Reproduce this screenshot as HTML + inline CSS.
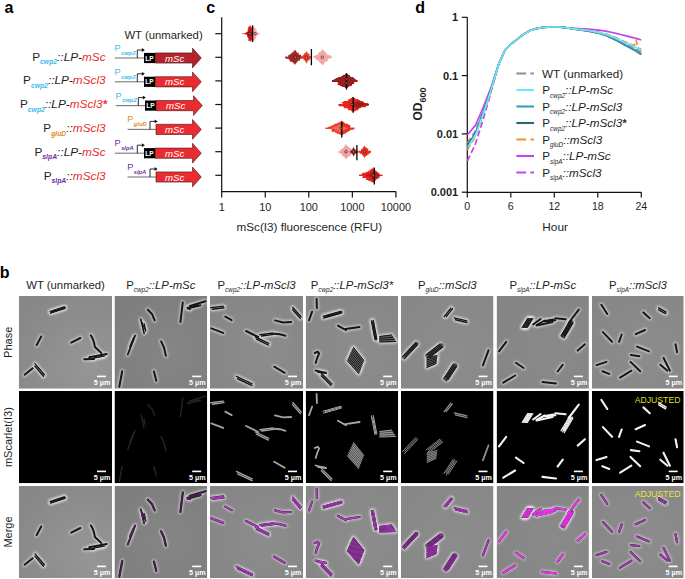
<!DOCTYPE html>
<html><head><meta charset="utf-8"><style>
html,body{margin:0;padding:0;background:#fff;width:685px;height:579px;overflow:hidden}
svg{display:block;font-family:"Liberation Sans",sans-serif}
</style></head><body>
<svg width="685" height="579" viewBox="0 0 685 579" font-family="Liberation Sans, sans-serif">
<defs><filter id="bl" filterUnits="userSpaceOnUse" x="-10" y="-10" width="115" height="115"><feGaussianBlur stdDeviation="0.9"/></filter><filter id="bl2" filterUnits="userSpaceOnUse" x="-10" y="-10" width="115" height="115"><feGaussianBlur stdDeviation="0.35"/></filter><radialGradient id="pg0" cx="0.75" cy="0.75" r="0.9"><stop offset="0" stop-color="rgb(150,150,150)"/><stop offset="1" stop-color="rgb(135,135,135)"/></radialGradient><radialGradient id="pg1" cx="0.6" cy="0.6" r="0.8"><stop offset="0" stop-color="rgb(133,133,133)"/><stop offset="1" stop-color="rgb(125,125,125)"/></radialGradient><radialGradient id="pg2" cx="0.6" cy="0.6" r="0.8"><stop offset="0" stop-color="rgb(140,140,140)"/><stop offset="1" stop-color="rgb(133,133,133)"/></radialGradient><radialGradient id="pg3" cx="0.6" cy="0.6" r="0.8"><stop offset="0" stop-color="rgb(140,140,140)"/><stop offset="1" stop-color="rgb(134,134,134)"/></radialGradient><radialGradient id="pg4" cx="0.6" cy="0.6" r="0.8"><stop offset="0" stop-color="rgb(140,140,140)"/><stop offset="1" stop-color="rgb(135,135,135)"/></radialGradient><radialGradient id="pg5" cx="0.6" cy="0.6" r="0.8"><stop offset="0" stop-color="rgb(138,138,138)"/><stop offset="1" stop-color="rgb(132,132,132)"/></radialGradient><radialGradient id="pg6" cx="0.6" cy="0.6" r="0.8"><stop offset="0" stop-color="rgb(140,140,140)"/><stop offset="1" stop-color="rgb(134,134,134)"/></radialGradient></defs>
<svg x="19" y="296" width="93" height="92.7" overflow="hidden">
<rect width="93" height="92.7" fill="url(#pg0)"/>
<path d="M30.90 15.41 L45.28 10.82" fill="none" stroke="#f0f0f0" stroke-opacity="0.6" stroke-width="4.4" stroke-linecap="round" filter="url(#bl)"/>
<path d="M32.83 15.74 L46.05 11.52" fill="none" stroke="#f0f0f0" stroke-opacity="0.6" stroke-width="4.4" stroke-linecap="round" filter="url(#bl)"/>
<path d="M31.45 17.12 L45.82 12.54" fill="none" stroke="#f0f0f0" stroke-opacity="0.6" stroke-width="4.4" stroke-linecap="round" filter="url(#bl)"/>
<path d="M17.70 49.00 L22.20 40.50" fill="none" stroke="#f0f0f0" stroke-opacity="0.6" stroke-width="4.4" stroke-linecap="round" filter="url(#bl)"/>
<path d="M52.20 46.60 L61.40 42.00" fill="none" stroke="#f0f0f0" stroke-opacity="0.6" stroke-width="4.4" stroke-linecap="round" filter="url(#bl)"/>
<path d="M71.80 39.30 L73.60 42.50 L75.00 46.50 L75.90 51.00 L79.50 54.20 L82.40 57.10" fill="none" stroke="#f0f0f0" stroke-opacity="0.6" stroke-width="4.4" stroke-linecap="round" filter="url(#bl)"/>
<path d="M65.30 63.30 L75.00 63.10" fill="none" stroke="#f0f0f0" stroke-opacity="0.6" stroke-width="4.4" stroke-linecap="round" filter="url(#bl)"/>
<path d="M70.20 61.20 L87.70 58.00" fill="none" stroke="#f0f0f0" stroke-opacity="0.6" stroke-width="4.4" stroke-linecap="round" filter="url(#bl)"/>
<path d="M73.00 62.60 L86.00 60.00" fill="none" stroke="#f0f0f0" stroke-opacity="0.6" stroke-width="4.4" stroke-linecap="round" filter="url(#bl)"/>
<path d="M75.00 61.60 L84.00 60.30" fill="none" stroke="#f0f0f0" stroke-opacity="0.6" stroke-width="4.4" stroke-linecap="round" filter="url(#bl)"/>
<path d="M5.60 78.70 L13.70 72.30" fill="none" stroke="#f0f0f0" stroke-opacity="0.6" stroke-width="4.4" stroke-linecap="round" filter="url(#bl)"/>
<path d="M16.08 67.85 L25.36 78.79" fill="none" stroke="#f0f0f0" stroke-opacity="0.6" stroke-width="4.4" stroke-linecap="round" filter="url(#bl)"/>
<path d="M15.92 70.15 L24.44 80.21" fill="none" stroke="#f0f0f0" stroke-opacity="0.6" stroke-width="4.4" stroke-linecap="round" filter="url(#bl)"/>
<path d="M32 16 L45.8 11.6" stroke="#656565" stroke-width="2.80" stroke-linecap="round" filter="url(#bl2)"/>
<path d="M30.90 15.41 L45.28 10.82" fill="none" stroke="#141414" stroke-width="1.10" stroke-linecap="round" filter="url(#bl2)"/>
<path d="M32.83 15.74 L46.05 11.52" fill="none" stroke="#141414" stroke-width="1.10" stroke-linecap="round" filter="url(#bl2)"/>
<path d="M31.45 17.12 L45.82 12.54" fill="none" stroke="#141414" stroke-width="1.10" stroke-linecap="round" filter="url(#bl2)"/>
<path d="M17.70 49.00 L22.20 40.50" fill="none" stroke="#141414" stroke-width="2.00" stroke-linecap="round" filter="url(#bl2)"/>
<path d="M52.20 46.60 L61.40 42.00" fill="none" stroke="#141414" stroke-width="2.00" stroke-linecap="round" filter="url(#bl2)"/>
<path d="M71.80 39.30 L73.60 42.50 L75.00 46.50 L75.90 51.00 L79.50 54.20 L82.40 57.10" fill="none" stroke="#141414" stroke-width="2.00" stroke-linecap="round" filter="url(#bl2)"/>
<path d="M65.30 63.30 L75.00 63.10" fill="none" stroke="#141414" stroke-width="2.00" stroke-linecap="round" filter="url(#bl2)"/>
<path d="M70.20 61.20 L87.70 58.00" fill="none" stroke="#141414" stroke-width="2.00" stroke-linecap="round" filter="url(#bl2)"/>
<path d="M73.00 62.60 L86.00 60.00" fill="none" stroke="#141414" stroke-width="1.00" stroke-linecap="round" filter="url(#bl2)"/>
<path d="M75.00 61.60 L84.00 60.30" fill="none" stroke="#141414" stroke-width="1.00" stroke-linecap="round" filter="url(#bl2)"/>
<path d="M5.60 78.70 L13.70 72.30" fill="none" stroke="#141414" stroke-width="2.00" stroke-linecap="round" filter="url(#bl2)"/>
<path d="M16.08 67.85 L25.36 78.79" fill="none" stroke="#141414" stroke-width="1.44" stroke-linecap="round" filter="url(#bl2)"/>
<path d="M15.92 70.15 L24.44 80.21" fill="none" stroke="#141414" stroke-width="1.44" stroke-linecap="round" filter="url(#bl2)"/>
<rect x="78" y="79.6" width="9" height="1.6" fill="#fff"/>
<text x="91.4" y="89.3" font-size="7.2" font-weight="bold" text-anchor="end" fill="#fff">5 µm</text>
</svg>
<svg x="19" y="391" width="93" height="92.2" overflow="hidden">
<rect width="93" height="92.2" fill="#000"/>
<rect x="78" y="79.6" width="9" height="1.6" fill="#fff"/>
<text x="91.4" y="89.3" font-size="7.2" font-weight="bold" text-anchor="end" fill="#fff">5 µm</text>
</svg>
<svg x="19" y="486" width="93" height="92" overflow="hidden">
<rect width="93" height="92" fill="url(#pg0)"/>
<path d="M30.90 15.41 L45.28 10.82" fill="none" stroke="#f0f0f0" stroke-opacity="0.6" stroke-width="4.4" stroke-linecap="round" filter="url(#bl)"/>
<path d="M32.83 15.74 L46.05 11.52" fill="none" stroke="#f0f0f0" stroke-opacity="0.6" stroke-width="4.4" stroke-linecap="round" filter="url(#bl)"/>
<path d="M31.45 17.12 L45.82 12.54" fill="none" stroke="#f0f0f0" stroke-opacity="0.6" stroke-width="4.4" stroke-linecap="round" filter="url(#bl)"/>
<path d="M17.70 49.00 L22.20 40.50" fill="none" stroke="#f0f0f0" stroke-opacity="0.6" stroke-width="4.4" stroke-linecap="round" filter="url(#bl)"/>
<path d="M52.20 46.60 L61.40 42.00" fill="none" stroke="#f0f0f0" stroke-opacity="0.6" stroke-width="4.4" stroke-linecap="round" filter="url(#bl)"/>
<path d="M71.80 39.30 L73.60 42.50 L75.00 46.50 L75.90 51.00 L79.50 54.20 L82.40 57.10" fill="none" stroke="#f0f0f0" stroke-opacity="0.6" stroke-width="4.4" stroke-linecap="round" filter="url(#bl)"/>
<path d="M65.30 63.30 L75.00 63.10" fill="none" stroke="#f0f0f0" stroke-opacity="0.6" stroke-width="4.4" stroke-linecap="round" filter="url(#bl)"/>
<path d="M70.20 61.20 L87.70 58.00" fill="none" stroke="#f0f0f0" stroke-opacity="0.6" stroke-width="4.4" stroke-linecap="round" filter="url(#bl)"/>
<path d="M73.00 62.60 L86.00 60.00" fill="none" stroke="#f0f0f0" stroke-opacity="0.6" stroke-width="4.4" stroke-linecap="round" filter="url(#bl)"/>
<path d="M75.00 61.60 L84.00 60.30" fill="none" stroke="#f0f0f0" stroke-opacity="0.6" stroke-width="4.4" stroke-linecap="round" filter="url(#bl)"/>
<path d="M5.60 78.70 L13.70 72.30" fill="none" stroke="#f0f0f0" stroke-opacity="0.6" stroke-width="4.4" stroke-linecap="round" filter="url(#bl)"/>
<path d="M16.08 67.85 L25.36 78.79" fill="none" stroke="#f0f0f0" stroke-opacity="0.6" stroke-width="4.4" stroke-linecap="round" filter="url(#bl)"/>
<path d="M15.92 70.15 L24.44 80.21" fill="none" stroke="#f0f0f0" stroke-opacity="0.6" stroke-width="4.4" stroke-linecap="round" filter="url(#bl)"/>
<path d="M32 16 L45.8 11.6" stroke="#656565" stroke-width="2.80" stroke-linecap="round" filter="url(#bl2)"/>
<path d="M30.90 15.41 L45.28 10.82" fill="none" stroke="#141414" stroke-width="1.10" stroke-linecap="round" filter="url(#bl2)"/>
<path d="M32.83 15.74 L46.05 11.52" fill="none" stroke="#141414" stroke-width="1.10" stroke-linecap="round" filter="url(#bl2)"/>
<path d="M31.45 17.12 L45.82 12.54" fill="none" stroke="#141414" stroke-width="1.10" stroke-linecap="round" filter="url(#bl2)"/>
<path d="M17.70 49.00 L22.20 40.50" fill="none" stroke="#141414" stroke-width="2.00" stroke-linecap="round" filter="url(#bl2)"/>
<path d="M52.20 46.60 L61.40 42.00" fill="none" stroke="#141414" stroke-width="2.00" stroke-linecap="round" filter="url(#bl2)"/>
<path d="M71.80 39.30 L73.60 42.50 L75.00 46.50 L75.90 51.00 L79.50 54.20 L82.40 57.10" fill="none" stroke="#141414" stroke-width="2.00" stroke-linecap="round" filter="url(#bl2)"/>
<path d="M65.30 63.30 L75.00 63.10" fill="none" stroke="#141414" stroke-width="2.00" stroke-linecap="round" filter="url(#bl2)"/>
<path d="M70.20 61.20 L87.70 58.00" fill="none" stroke="#141414" stroke-width="2.00" stroke-linecap="round" filter="url(#bl2)"/>
<path d="M73.00 62.60 L86.00 60.00" fill="none" stroke="#141414" stroke-width="1.00" stroke-linecap="round" filter="url(#bl2)"/>
<path d="M75.00 61.60 L84.00 60.30" fill="none" stroke="#141414" stroke-width="1.00" stroke-linecap="round" filter="url(#bl2)"/>
<path d="M5.60 78.70 L13.70 72.30" fill="none" stroke="#141414" stroke-width="2.00" stroke-linecap="round" filter="url(#bl2)"/>
<path d="M16.08 67.85 L25.36 78.79" fill="none" stroke="#141414" stroke-width="1.44" stroke-linecap="round" filter="url(#bl2)"/>
<path d="M15.92 70.15 L24.44 80.21" fill="none" stroke="#141414" stroke-width="1.44" stroke-linecap="round" filter="url(#bl2)"/>
<rect x="78" y="79.6" width="9" height="1.6" fill="#fff"/>
<text x="91.4" y="89.3" font-size="7.2" font-weight="bold" text-anchor="end" fill="#fff">5 µm</text>
</svg>
<svg x="114.5" y="296" width="92.7" height="92.7" overflow="hidden">
<rect width="92.7" height="92.7" fill="url(#pg1)"/>
<path d="M68.30 6.40 L65.90 26.00" fill="none" stroke="#f0f0f0" stroke-opacity="0.6" stroke-width="4.4" stroke-linecap="round" filter="url(#bl)"/>
<path d="M75.20 9.90 L91.10 5.20" fill="none" stroke="#f0f0f0" stroke-opacity="0.6" stroke-width="4.4" stroke-linecap="round" filter="url(#bl)"/>
<path d="M73.10 12.60 L86.00 9.20" fill="none" stroke="#f0f0f0" stroke-opacity="0.6" stroke-width="4.4" stroke-linecap="round" filter="url(#bl)"/>
<path d="M74.50 11.00 L84.00 8.60" fill="none" stroke="#f0f0f0" stroke-opacity="0.6" stroke-width="4.4" stroke-linecap="round" filter="url(#bl)"/>
<path d="M72.80 11.40 L75.50 13.40" fill="none" stroke="#f0f0f0" stroke-opacity="0.6" stroke-width="4.4" stroke-linecap="round" filter="url(#bl)"/>
<path d="M33.40 13.70 L37.50 18.00 L40.20 24.40" fill="none" stroke="#f0f0f0" stroke-opacity="0.6" stroke-width="4.4" stroke-linecap="round" filter="url(#bl)"/>
<path d="M26.30 23.30 L29.60 37.30" fill="none" stroke="#f0f0f0" stroke-opacity="0.6" stroke-width="4.4" stroke-linecap="round" filter="url(#bl)"/>
<path d="M29.60 27.60 L31.20 35.00" fill="none" stroke="#f0f0f0" stroke-opacity="0.6" stroke-width="4.4" stroke-linecap="round" filter="url(#bl)"/>
<path d="M27.50 26.00 L30.00 33.00" fill="none" stroke="#f0f0f0" stroke-opacity="0.6" stroke-width="4.4" stroke-linecap="round" filter="url(#bl)"/>
<path d="M20.60 39.60 L13.30 58.50" fill="none" stroke="#f0f0f0" stroke-opacity="0.6" stroke-width="4.4" stroke-linecap="round" filter="url(#bl)"/>
<path d="M19.20 41.50 L15.30 50.50" fill="none" stroke="#f0f0f0" stroke-opacity="0.6" stroke-width="4.4" stroke-linecap="round" filter="url(#bl)"/>
<path d="M46.60 45.30 L49.50 51.50 L51.40 59.70" fill="none" stroke="#f0f0f0" stroke-opacity="0.6" stroke-width="4.4" stroke-linecap="round" filter="url(#bl)"/>
<path d="M7.70 75.20 L4.80 90.70" fill="none" stroke="#f0f0f0" stroke-opacity="0.6" stroke-width="4.4" stroke-linecap="round" filter="url(#bl)"/>
<path d="M39.40 75.50 L41.80 84.80" fill="none" stroke="#f0f0f0" stroke-opacity="0.6" stroke-width="4.4" stroke-linecap="round" filter="url(#bl)"/>
<path d="M68.30 6.40 L65.90 26.00" fill="none" stroke="#141414" stroke-width="2.00" stroke-linecap="round" filter="url(#bl2)"/>
<path d="M75.20 9.90 L91.10 5.20" fill="none" stroke="#141414" stroke-width="2.00" stroke-linecap="round" filter="url(#bl2)"/>
<path d="M73.10 12.60 L86.00 9.20" fill="none" stroke="#141414" stroke-width="2.00" stroke-linecap="round" filter="url(#bl2)"/>
<path d="M74.50 11.00 L84.00 8.60" fill="none" stroke="#141414" stroke-width="1.20" stroke-linecap="round" filter="url(#bl2)"/>
<path d="M72.80 11.40 L75.50 13.40" fill="none" stroke="#141414" stroke-width="1.60" stroke-linecap="round" filter="url(#bl2)"/>
<path d="M33.40 13.70 L37.50 18.00 L40.20 24.40" fill="none" stroke="#141414" stroke-width="2.00" stroke-linecap="round" filter="url(#bl2)"/>
<path d="M26.30 23.30 L29.60 37.30" fill="none" stroke="#141414" stroke-width="1.60" stroke-linecap="round" filter="url(#bl2)"/>
<path d="M29.60 27.60 L31.20 35.00" fill="none" stroke="#141414" stroke-width="1.40" stroke-linecap="round" filter="url(#bl2)"/>
<path d="M27.50 26.00 L30.00 33.00" fill="none" stroke="#141414" stroke-width="1.00" stroke-linecap="round" filter="url(#bl2)"/>
<path d="M20.60 39.60 L13.30 58.50" fill="none" stroke="#141414" stroke-width="1.80" stroke-linecap="round" filter="url(#bl2)"/>
<path d="M19.20 41.50 L15.30 50.50" fill="none" stroke="#141414" stroke-width="1.40" stroke-linecap="round" filter="url(#bl2)"/>
<path d="M46.60 45.30 L49.50 51.50 L51.40 59.70" fill="none" stroke="#141414" stroke-width="2.00" stroke-linecap="round" filter="url(#bl2)"/>
<path d="M7.70 75.20 L4.80 90.70" fill="none" stroke="#141414" stroke-width="2.00" stroke-linecap="round" filter="url(#bl2)"/>
<path d="M39.40 75.50 L41.80 84.80" fill="none" stroke="#141414" stroke-width="2.00" stroke-linecap="round" filter="url(#bl2)"/>
<rect x="77.7" y="79.6" width="9" height="1.6" fill="#fff"/>
<text x="91.10000000000001" y="89.3" font-size="7.2" font-weight="bold" text-anchor="end" fill="#fff">5 µm</text>
</svg>
<svg x="114.5" y="391" width="92.7" height="92.2" overflow="hidden">
<rect width="92.7" height="92.2" fill="#000"/>
<path d="M68.30 6.40 L65.90 26.00" fill="none" stroke="#262626" stroke-width="1.40" stroke-linecap="round" filter="url(#bl2)"/>
<path d="M75.20 9.90 L91.10 5.20" fill="none" stroke="#262626" stroke-width="1.40" stroke-linecap="round" filter="url(#bl2)"/>
<path d="M73.10 12.60 L86.00 9.20" fill="none" stroke="#262626" stroke-width="1.40" stroke-linecap="round" filter="url(#bl2)"/>
<path d="M74.50 11.00 L84.00 8.60" fill="none" stroke="#262626" stroke-width="0.84" stroke-linecap="round" filter="url(#bl2)"/>
<path d="M72.80 11.40 L75.50 13.40" fill="none" stroke="#262626" stroke-width="1.12" stroke-linecap="round" filter="url(#bl2)"/>
<path d="M33.40 13.70 L37.50 18.00 L40.20 24.40" fill="none" stroke="#262626" stroke-width="1.40" stroke-linecap="round" filter="url(#bl2)"/>
<path d="M26.30 23.30 L29.60 37.30" fill="none" stroke="#262626" stroke-width="1.12" stroke-linecap="round" filter="url(#bl2)"/>
<path d="M29.60 27.60 L31.20 35.00" fill="none" stroke="#262626" stroke-width="0.98" stroke-linecap="round" filter="url(#bl2)"/>
<path d="M27.50 26.00 L30.00 33.00" fill="none" stroke="#262626" stroke-width="0.70" stroke-linecap="round" filter="url(#bl2)"/>
<path d="M20.60 39.60 L13.30 58.50" fill="none" stroke="#262626" stroke-width="1.26" stroke-linecap="round" filter="url(#bl2)"/>
<path d="M19.20 41.50 L15.30 50.50" fill="none" stroke="#262626" stroke-width="0.98" stroke-linecap="round" filter="url(#bl2)"/>
<path d="M46.60 45.30 L49.50 51.50 L51.40 59.70" fill="none" stroke="#262626" stroke-width="1.40" stroke-linecap="round" filter="url(#bl2)"/>
<path d="M7.70 75.20 L4.80 90.70" fill="none" stroke="#262626" stroke-width="1.40" stroke-linecap="round" filter="url(#bl2)"/>
<path d="M39.40 75.50 L41.80 84.80" fill="none" stroke="#262626" stroke-width="1.40" stroke-linecap="round" filter="url(#bl2)"/>
<rect x="77.7" y="79.6" width="9" height="1.6" fill="#fff"/>
<text x="91.10000000000001" y="89.3" font-size="7.2" font-weight="bold" text-anchor="end" fill="#fff">5 µm</text>
</svg>
<svg x="114.5" y="486" width="92.7" height="92" overflow="hidden">
<rect width="92.7" height="92" fill="url(#pg1)"/>
<path d="M68.30 6.40 L65.90 26.00" fill="none" stroke="#f0f0f0" stroke-opacity="0.6" stroke-width="4.4" stroke-linecap="round" filter="url(#bl)"/>
<path d="M75.20 9.90 L91.10 5.20" fill="none" stroke="#f0f0f0" stroke-opacity="0.6" stroke-width="4.4" stroke-linecap="round" filter="url(#bl)"/>
<path d="M73.10 12.60 L86.00 9.20" fill="none" stroke="#f0f0f0" stroke-opacity="0.6" stroke-width="4.4" stroke-linecap="round" filter="url(#bl)"/>
<path d="M74.50 11.00 L84.00 8.60" fill="none" stroke="#f0f0f0" stroke-opacity="0.6" stroke-width="4.4" stroke-linecap="round" filter="url(#bl)"/>
<path d="M72.80 11.40 L75.50 13.40" fill="none" stroke="#f0f0f0" stroke-opacity="0.6" stroke-width="4.4" stroke-linecap="round" filter="url(#bl)"/>
<path d="M33.40 13.70 L37.50 18.00 L40.20 24.40" fill="none" stroke="#f0f0f0" stroke-opacity="0.6" stroke-width="4.4" stroke-linecap="round" filter="url(#bl)"/>
<path d="M26.30 23.30 L29.60 37.30" fill="none" stroke="#f0f0f0" stroke-opacity="0.6" stroke-width="4.4" stroke-linecap="round" filter="url(#bl)"/>
<path d="M29.60 27.60 L31.20 35.00" fill="none" stroke="#f0f0f0" stroke-opacity="0.6" stroke-width="4.4" stroke-linecap="round" filter="url(#bl)"/>
<path d="M27.50 26.00 L30.00 33.00" fill="none" stroke="#f0f0f0" stroke-opacity="0.6" stroke-width="4.4" stroke-linecap="round" filter="url(#bl)"/>
<path d="M20.60 39.60 L13.30 58.50" fill="none" stroke="#f0f0f0" stroke-opacity="0.6" stroke-width="4.4" stroke-linecap="round" filter="url(#bl)"/>
<path d="M19.20 41.50 L15.30 50.50" fill="none" stroke="#f0f0f0" stroke-opacity="0.6" stroke-width="4.4" stroke-linecap="round" filter="url(#bl)"/>
<path d="M46.60 45.30 L49.50 51.50 L51.40 59.70" fill="none" stroke="#f0f0f0" stroke-opacity="0.6" stroke-width="4.4" stroke-linecap="round" filter="url(#bl)"/>
<path d="M7.70 75.20 L4.80 90.70" fill="none" stroke="#f0f0f0" stroke-opacity="0.6" stroke-width="4.4" stroke-linecap="round" filter="url(#bl)"/>
<path d="M39.40 75.50 L41.80 84.80" fill="none" stroke="#f0f0f0" stroke-opacity="0.6" stroke-width="4.4" stroke-linecap="round" filter="url(#bl)"/>
<path d="M68.30 6.40 L65.90 26.00" fill="none" stroke="#141414" stroke-width="2.20" stroke-linecap="round" filter="url(#bl2)"/>
<path d="M75.20 9.90 L91.10 5.20" fill="none" stroke="#141414" stroke-width="2.20" stroke-linecap="round" filter="url(#bl2)"/>
<path d="M73.10 12.60 L86.00 9.20" fill="none" stroke="#141414" stroke-width="2.20" stroke-linecap="round" filter="url(#bl2)"/>
<path d="M74.50 11.00 L84.00 8.60" fill="none" stroke="#141414" stroke-width="1.32" stroke-linecap="round" filter="url(#bl2)"/>
<path d="M72.80 11.40 L75.50 13.40" fill="none" stroke="#141414" stroke-width="1.76" stroke-linecap="round" filter="url(#bl2)"/>
<path d="M33.40 13.70 L37.50 18.00 L40.20 24.40" fill="none" stroke="#141414" stroke-width="2.20" stroke-linecap="round" filter="url(#bl2)"/>
<path d="M26.30 23.30 L29.60 37.30" fill="none" stroke="#141414" stroke-width="1.76" stroke-linecap="round" filter="url(#bl2)"/>
<path d="M29.60 27.60 L31.20 35.00" fill="none" stroke="#141414" stroke-width="1.54" stroke-linecap="round" filter="url(#bl2)"/>
<path d="M27.50 26.00 L30.00 33.00" fill="none" stroke="#141414" stroke-width="1.10" stroke-linecap="round" filter="url(#bl2)"/>
<path d="M20.60 39.60 L13.30 58.50" fill="none" stroke="#141414" stroke-width="1.98" stroke-linecap="round" filter="url(#bl2)"/>
<path d="M19.20 41.50 L15.30 50.50" fill="none" stroke="#141414" stroke-width="1.54" stroke-linecap="round" filter="url(#bl2)"/>
<path d="M46.60 45.30 L49.50 51.50 L51.40 59.70" fill="none" stroke="#141414" stroke-width="2.20" stroke-linecap="round" filter="url(#bl2)"/>
<path d="M7.70 75.20 L4.80 90.70" fill="none" stroke="#141414" stroke-width="2.20" stroke-linecap="round" filter="url(#bl2)"/>
<path d="M39.40 75.50 L41.80 84.80" fill="none" stroke="#141414" stroke-width="2.20" stroke-linecap="round" filter="url(#bl2)"/>
<path d="M68.30 6.40 L65.90 26.00" fill="none" stroke="#4e1e56" stroke-width="1.50" stroke-linecap="round" filter="url(#bl2)"/>
<path d="M75.20 9.90 L91.10 5.20" fill="none" stroke="#4e1e56" stroke-width="1.50" stroke-linecap="round" filter="url(#bl2)"/>
<path d="M73.10 12.60 L86.00 9.20" fill="none" stroke="#4e1e56" stroke-width="1.50" stroke-linecap="round" filter="url(#bl2)"/>
<path d="M74.50 11.00 L84.00 8.60" fill="none" stroke="#4e1e56" stroke-width="0.90" stroke-linecap="round" filter="url(#bl2)"/>
<path d="M72.80 11.40 L75.50 13.40" fill="none" stroke="#4e1e56" stroke-width="1.20" stroke-linecap="round" filter="url(#bl2)"/>
<path d="M33.40 13.70 L37.50 18.00 L40.20 24.40" fill="none" stroke="#4e1e56" stroke-width="1.50" stroke-linecap="round" filter="url(#bl2)"/>
<path d="M26.30 23.30 L29.60 37.30" fill="none" stroke="#4e1e56" stroke-width="1.20" stroke-linecap="round" filter="url(#bl2)"/>
<path d="M29.60 27.60 L31.20 35.00" fill="none" stroke="#4e1e56" stroke-width="1.05" stroke-linecap="round" filter="url(#bl2)"/>
<path d="M27.50 26.00 L30.00 33.00" fill="none" stroke="#4e1e56" stroke-width="0.75" stroke-linecap="round" filter="url(#bl2)"/>
<path d="M20.60 39.60 L13.30 58.50" fill="none" stroke="#4e1e56" stroke-width="1.35" stroke-linecap="round" filter="url(#bl2)"/>
<path d="M19.20 41.50 L15.30 50.50" fill="none" stroke="#4e1e56" stroke-width="1.05" stroke-linecap="round" filter="url(#bl2)"/>
<path d="M46.60 45.30 L49.50 51.50 L51.40 59.70" fill="none" stroke="#4e1e56" stroke-width="1.50" stroke-linecap="round" filter="url(#bl2)"/>
<path d="M7.70 75.20 L4.80 90.70" fill="none" stroke="#4e1e56" stroke-width="1.50" stroke-linecap="round" filter="url(#bl2)"/>
<path d="M39.40 75.50 L41.80 84.80" fill="none" stroke="#4e1e56" stroke-width="1.50" stroke-linecap="round" filter="url(#bl2)"/>
<rect x="77.7" y="79.6" width="9" height="1.6" fill="#fff"/>
<text x="91.10000000000001" y="89.3" font-size="7.2" font-weight="bold" text-anchor="end" fill="#fff">5 µm</text>
</svg>
<svg x="210" y="296" width="93" height="92.7" overflow="hidden">
<rect width="93" height="92.7" fill="url(#pg2)"/>
<path d="M0.77 11.79 L13.38 10.13" fill="none" stroke="#f0f0f0" stroke-opacity="0.6" stroke-width="4.4" stroke-linecap="round" filter="url(#bl)"/>
<path d="M2.43 13.21 L14.02 11.67" fill="none" stroke="#f0f0f0" stroke-opacity="0.6" stroke-width="4.4" stroke-linecap="round" filter="url(#bl)"/>
<path d="M15.30 20.60 L21.70 24.10" fill="none" stroke="#f0f0f0" stroke-opacity="0.6" stroke-width="4.4" stroke-linecap="round" filter="url(#bl)"/>
<path d="M82.83 11.42 L91.17 21.00" fill="none" stroke="#f0f0f0" stroke-opacity="0.6" stroke-width="4.4" stroke-linecap="round" filter="url(#bl)"/>
<path d="M82.57 13.58 L90.23 22.40" fill="none" stroke="#f0f0f0" stroke-opacity="0.6" stroke-width="4.4" stroke-linecap="round" filter="url(#bl)"/>
<path d="M65.00 24.40 L73.00 26.40 L81.10 26.00" fill="none" stroke="#f0f0f0" stroke-opacity="0.6" stroke-width="4.4" stroke-linecap="round" filter="url(#bl)"/>
<path d="M1.30 32.40 L13.20 36.90" fill="none" stroke="#f0f0f0" stroke-opacity="0.6" stroke-width="4.4" stroke-linecap="round" filter="url(#bl)"/>
<path d="M36.10 35.00 L48.20 41.00" fill="none" stroke="#f0f0f0" stroke-opacity="0.6" stroke-width="4.4" stroke-linecap="round" filter="url(#bl)"/>
<path d="M45.38 41.00 L58.72 47.36" fill="none" stroke="#f0f0f0" stroke-opacity="0.6" stroke-width="4.4" stroke-linecap="round" filter="url(#bl)"/>
<path d="M46.22 43.20 L58.48 49.04" fill="none" stroke="#f0f0f0" stroke-opacity="0.6" stroke-width="4.4" stroke-linecap="round" filter="url(#bl)"/>
<path d="M49.73 38.77 L63.07 36.99" fill="none" stroke="#f0f0f0" stroke-opacity="0.6" stroke-width="4.4" stroke-linecap="round" filter="url(#bl)"/>
<path d="M51.47 40.03 L63.73 38.41" fill="none" stroke="#f0f0f0" stroke-opacity="0.6" stroke-width="4.4" stroke-linecap="round" filter="url(#bl)"/>
<path d="M64.20 37.70 L70.00 38.20 L75.50 39.80" fill="none" stroke="#f0f0f0" stroke-opacity="0.6" stroke-width="4.4" stroke-linecap="round" filter="url(#bl)"/>
<path d="M64.20 70.70 L74.70 76.80" fill="none" stroke="#f0f0f0" stroke-opacity="0.6" stroke-width="4.4" stroke-linecap="round" filter="url(#bl)"/>
<path d="M26.44 80.44 L42.17 87.84" fill="none" stroke="#f0f0f0" stroke-opacity="0.6" stroke-width="4.4" stroke-linecap="round" filter="url(#bl)"/>
<path d="M27.56 82.76 L42.03 89.56" fill="none" stroke="#f0f0f0" stroke-opacity="0.6" stroke-width="4.4" stroke-linecap="round" filter="url(#bl)"/>
<path d="M0.77 11.79 L13.38 10.13" fill="none" stroke="#141414" stroke-width="1.44" stroke-linecap="round" filter="url(#bl2)"/>
<path d="M2.43 13.21 L14.02 11.67" fill="none" stroke="#141414" stroke-width="1.44" stroke-linecap="round" filter="url(#bl2)"/>
<path d="M15.30 20.60 L21.70 24.10" fill="none" stroke="#141414" stroke-width="2.00" stroke-linecap="round" filter="url(#bl2)"/>
<path d="M82.83 11.42 L91.17 21.00" fill="none" stroke="#141414" stroke-width="1.44" stroke-linecap="round" filter="url(#bl2)"/>
<path d="M82.57 13.58 L90.23 22.40" fill="none" stroke="#141414" stroke-width="1.44" stroke-linecap="round" filter="url(#bl2)"/>
<path d="M65.00 24.40 L73.00 26.40 L81.10 26.00" fill="none" stroke="#141414" stroke-width="2.00" stroke-linecap="round" filter="url(#bl2)"/>
<path d="M1.30 32.40 L13.20 36.90" fill="none" stroke="#141414" stroke-width="2.00" stroke-linecap="round" filter="url(#bl2)"/>
<path d="M36.10 35.00 L48.20 41.00" fill="none" stroke="#141414" stroke-width="2.00" stroke-linecap="round" filter="url(#bl2)"/>
<path d="M45.38 41.00 L58.72 47.36" fill="none" stroke="#141414" stroke-width="1.44" stroke-linecap="round" filter="url(#bl2)"/>
<path d="M46.22 43.20 L58.48 49.04" fill="none" stroke="#141414" stroke-width="1.44" stroke-linecap="round" filter="url(#bl2)"/>
<path d="M49.73 38.77 L63.07 36.99" fill="none" stroke="#141414" stroke-width="1.44" stroke-linecap="round" filter="url(#bl2)"/>
<path d="M51.47 40.03 L63.73 38.41" fill="none" stroke="#141414" stroke-width="1.44" stroke-linecap="round" filter="url(#bl2)"/>
<path d="M64.20 37.70 L70.00 38.20 L75.50 39.80" fill="none" stroke="#141414" stroke-width="2.00" stroke-linecap="round" filter="url(#bl2)"/>
<path d="M64.20 70.70 L74.70 76.80" fill="none" stroke="#141414" stroke-width="2.00" stroke-linecap="round" filter="url(#bl2)"/>
<path d="M26.44 80.44 L42.17 87.84" fill="none" stroke="#141414" stroke-width="1.44" stroke-linecap="round" filter="url(#bl2)"/>
<path d="M27.56 82.76 L42.03 89.56" fill="none" stroke="#141414" stroke-width="1.44" stroke-linecap="round" filter="url(#bl2)"/>
<rect x="78" y="79.6" width="9" height="1.6" fill="#fff"/>
<text x="91.4" y="89.3" font-size="7.2" font-weight="bold" text-anchor="end" fill="#fff">5 µm</text>
</svg>
<svg x="210" y="391" width="93" height="92.2" overflow="hidden">
<rect width="93" height="92.2" fill="#000"/>
<path d="M0.77 11.79 L13.38 10.13" fill="none" stroke="#a2a2a2" stroke-width="1.37" stroke-linecap="round" filter="url(#bl2)"/>
<path d="M2.43 13.21 L14.02 11.67" fill="none" stroke="#a2a2a2" stroke-width="1.37" stroke-linecap="round" filter="url(#bl2)"/>
<path d="M15.30 20.60 L21.70 24.10" fill="none" stroke="#a2a2a2" stroke-width="1.90" stroke-linecap="round" filter="url(#bl2)"/>
<path d="M82.83 11.42 L91.17 21.00" fill="none" stroke="#a2a2a2" stroke-width="1.37" stroke-linecap="round" filter="url(#bl2)"/>
<path d="M82.57 13.58 L90.23 22.40" fill="none" stroke="#a2a2a2" stroke-width="1.37" stroke-linecap="round" filter="url(#bl2)"/>
<path d="M65.00 24.40 L73.00 26.40 L81.10 26.00" fill="none" stroke="#a2a2a2" stroke-width="1.90" stroke-linecap="round" filter="url(#bl2)"/>
<path d="M1.30 32.40 L13.20 36.90" fill="none" stroke="#a2a2a2" stroke-width="1.90" stroke-linecap="round" filter="url(#bl2)"/>
<path d="M36.10 35.00 L48.20 41.00" fill="none" stroke="#a2a2a2" stroke-width="1.90" stroke-linecap="round" filter="url(#bl2)"/>
<path d="M45.38 41.00 L58.72 47.36" fill="none" stroke="#a2a2a2" stroke-width="1.37" stroke-linecap="round" filter="url(#bl2)"/>
<path d="M46.22 43.20 L58.48 49.04" fill="none" stroke="#a2a2a2" stroke-width="1.37" stroke-linecap="round" filter="url(#bl2)"/>
<path d="M49.73 38.77 L63.07 36.99" fill="none" stroke="#a2a2a2" stroke-width="1.37" stroke-linecap="round" filter="url(#bl2)"/>
<path d="M51.47 40.03 L63.73 38.41" fill="none" stroke="#a2a2a2" stroke-width="1.37" stroke-linecap="round" filter="url(#bl2)"/>
<path d="M64.20 37.70 L70.00 38.20 L75.50 39.80" fill="none" stroke="#a2a2a2" stroke-width="1.90" stroke-linecap="round" filter="url(#bl2)"/>
<path d="M64.20 70.70 L74.70 76.80" fill="none" stroke="#a2a2a2" stroke-width="1.90" stroke-linecap="round" filter="url(#bl2)"/>
<path d="M26.44 80.44 L42.17 87.84" fill="none" stroke="#a2a2a2" stroke-width="1.37" stroke-linecap="round" filter="url(#bl2)"/>
<path d="M27.56 82.76 L42.03 89.56" fill="none" stroke="#a2a2a2" stroke-width="1.37" stroke-linecap="round" filter="url(#bl2)"/>
<rect x="78" y="79.6" width="9" height="1.6" fill="#fff"/>
<text x="91.4" y="89.3" font-size="7.2" font-weight="bold" text-anchor="end" fill="#fff">5 µm</text>
</svg>
<svg x="210" y="486" width="93" height="92" overflow="hidden">
<rect width="93" height="92" fill="url(#pg2)"/>
<path d="M0.77 11.79 L13.38 10.13" fill="none" stroke="#f0f0f0" stroke-opacity="0.6" stroke-width="4.4" stroke-linecap="round" filter="url(#bl)"/>
<path d="M2.43 13.21 L14.02 11.67" fill="none" stroke="#f0f0f0" stroke-opacity="0.6" stroke-width="4.4" stroke-linecap="round" filter="url(#bl)"/>
<path d="M15.30 20.60 L21.70 24.10" fill="none" stroke="#f0f0f0" stroke-opacity="0.6" stroke-width="4.4" stroke-linecap="round" filter="url(#bl)"/>
<path d="M82.83 11.42 L91.17 21.00" fill="none" stroke="#f0f0f0" stroke-opacity="0.6" stroke-width="4.4" stroke-linecap="round" filter="url(#bl)"/>
<path d="M82.57 13.58 L90.23 22.40" fill="none" stroke="#f0f0f0" stroke-opacity="0.6" stroke-width="4.4" stroke-linecap="round" filter="url(#bl)"/>
<path d="M65.00 24.40 L73.00 26.40 L81.10 26.00" fill="none" stroke="#f0f0f0" stroke-opacity="0.6" stroke-width="4.4" stroke-linecap="round" filter="url(#bl)"/>
<path d="M1.30 32.40 L13.20 36.90" fill="none" stroke="#f0f0f0" stroke-opacity="0.6" stroke-width="4.4" stroke-linecap="round" filter="url(#bl)"/>
<path d="M36.10 35.00 L48.20 41.00" fill="none" stroke="#f0f0f0" stroke-opacity="0.6" stroke-width="4.4" stroke-linecap="round" filter="url(#bl)"/>
<path d="M45.38 41.00 L58.72 47.36" fill="none" stroke="#f0f0f0" stroke-opacity="0.6" stroke-width="4.4" stroke-linecap="round" filter="url(#bl)"/>
<path d="M46.22 43.20 L58.48 49.04" fill="none" stroke="#f0f0f0" stroke-opacity="0.6" stroke-width="4.4" stroke-linecap="round" filter="url(#bl)"/>
<path d="M49.73 38.77 L63.07 36.99" fill="none" stroke="#f0f0f0" stroke-opacity="0.6" stroke-width="4.4" stroke-linecap="round" filter="url(#bl)"/>
<path d="M51.47 40.03 L63.73 38.41" fill="none" stroke="#f0f0f0" stroke-opacity="0.6" stroke-width="4.4" stroke-linecap="round" filter="url(#bl)"/>
<path d="M64.20 37.70 L70.00 38.20 L75.50 39.80" fill="none" stroke="#f0f0f0" stroke-opacity="0.6" stroke-width="4.4" stroke-linecap="round" filter="url(#bl)"/>
<path d="M64.20 70.70 L74.70 76.80" fill="none" stroke="#f0f0f0" stroke-opacity="0.6" stroke-width="4.4" stroke-linecap="round" filter="url(#bl)"/>
<path d="M26.44 80.44 L42.17 87.84" fill="none" stroke="#f0f0f0" stroke-opacity="0.6" stroke-width="4.4" stroke-linecap="round" filter="url(#bl)"/>
<path d="M27.56 82.76 L42.03 89.56" fill="none" stroke="#f0f0f0" stroke-opacity="0.6" stroke-width="4.4" stroke-linecap="round" filter="url(#bl)"/>
<path d="M0.77 11.79 L13.38 10.13" fill="none" stroke="#141414" stroke-width="1.58" stroke-linecap="round" filter="url(#bl2)"/>
<path d="M2.43 13.21 L14.02 11.67" fill="none" stroke="#141414" stroke-width="1.58" stroke-linecap="round" filter="url(#bl2)"/>
<path d="M15.30 20.60 L21.70 24.10" fill="none" stroke="#141414" stroke-width="2.20" stroke-linecap="round" filter="url(#bl2)"/>
<path d="M82.83 11.42 L91.17 21.00" fill="none" stroke="#141414" stroke-width="1.58" stroke-linecap="round" filter="url(#bl2)"/>
<path d="M82.57 13.58 L90.23 22.40" fill="none" stroke="#141414" stroke-width="1.58" stroke-linecap="round" filter="url(#bl2)"/>
<path d="M65.00 24.40 L73.00 26.40 L81.10 26.00" fill="none" stroke="#141414" stroke-width="2.20" stroke-linecap="round" filter="url(#bl2)"/>
<path d="M1.30 32.40 L13.20 36.90" fill="none" stroke="#141414" stroke-width="2.20" stroke-linecap="round" filter="url(#bl2)"/>
<path d="M36.10 35.00 L48.20 41.00" fill="none" stroke="#141414" stroke-width="2.20" stroke-linecap="round" filter="url(#bl2)"/>
<path d="M45.38 41.00 L58.72 47.36" fill="none" stroke="#141414" stroke-width="1.58" stroke-linecap="round" filter="url(#bl2)"/>
<path d="M46.22 43.20 L58.48 49.04" fill="none" stroke="#141414" stroke-width="1.58" stroke-linecap="round" filter="url(#bl2)"/>
<path d="M49.73 38.77 L63.07 36.99" fill="none" stroke="#141414" stroke-width="1.58" stroke-linecap="round" filter="url(#bl2)"/>
<path d="M51.47 40.03 L63.73 38.41" fill="none" stroke="#141414" stroke-width="1.58" stroke-linecap="round" filter="url(#bl2)"/>
<path d="M64.20 37.70 L70.00 38.20 L75.50 39.80" fill="none" stroke="#141414" stroke-width="2.20" stroke-linecap="round" filter="url(#bl2)"/>
<path d="M64.20 70.70 L74.70 76.80" fill="none" stroke="#141414" stroke-width="2.20" stroke-linecap="round" filter="url(#bl2)"/>
<path d="M26.44 80.44 L42.17 87.84" fill="none" stroke="#141414" stroke-width="1.58" stroke-linecap="round" filter="url(#bl2)"/>
<path d="M27.56 82.76 L42.03 89.56" fill="none" stroke="#141414" stroke-width="1.58" stroke-linecap="round" filter="url(#bl2)"/>
<path d="M0.77 11.79 L13.38 10.13" fill="none" stroke="#b034c8" stroke-width="1.22" stroke-linecap="round" filter="url(#bl2)"/>
<path d="M2.43 13.21 L14.02 11.67" fill="none" stroke="#b034c8" stroke-width="1.22" stroke-linecap="round" filter="url(#bl2)"/>
<path d="M15.30 20.60 L21.70 24.10" fill="none" stroke="#b034c8" stroke-width="1.70" stroke-linecap="round" filter="url(#bl2)"/>
<path d="M82.83 11.42 L91.17 21.00" fill="none" stroke="#b034c8" stroke-width="1.22" stroke-linecap="round" filter="url(#bl2)"/>
<path d="M82.57 13.58 L90.23 22.40" fill="none" stroke="#b034c8" stroke-width="1.22" stroke-linecap="round" filter="url(#bl2)"/>
<path d="M65.00 24.40 L73.00 26.40 L81.10 26.00" fill="none" stroke="#b034c8" stroke-width="1.70" stroke-linecap="round" filter="url(#bl2)"/>
<path d="M1.30 32.40 L13.20 36.90" fill="none" stroke="#b034c8" stroke-width="1.70" stroke-linecap="round" filter="url(#bl2)"/>
<path d="M36.10 35.00 L48.20 41.00" fill="none" stroke="#b034c8" stroke-width="1.70" stroke-linecap="round" filter="url(#bl2)"/>
<path d="M45.38 41.00 L58.72 47.36" fill="none" stroke="#b034c8" stroke-width="1.22" stroke-linecap="round" filter="url(#bl2)"/>
<path d="M46.22 43.20 L58.48 49.04" fill="none" stroke="#b034c8" stroke-width="1.22" stroke-linecap="round" filter="url(#bl2)"/>
<path d="M49.73 38.77 L63.07 36.99" fill="none" stroke="#b034c8" stroke-width="1.22" stroke-linecap="round" filter="url(#bl2)"/>
<path d="M51.47 40.03 L63.73 38.41" fill="none" stroke="#b034c8" stroke-width="1.22" stroke-linecap="round" filter="url(#bl2)"/>
<path d="M64.20 37.70 L70.00 38.20 L75.50 39.80" fill="none" stroke="#b034c8" stroke-width="1.70" stroke-linecap="round" filter="url(#bl2)"/>
<path d="M64.20 70.70 L74.70 76.80" fill="none" stroke="#b034c8" stroke-width="1.70" stroke-linecap="round" filter="url(#bl2)"/>
<path d="M26.44 80.44 L42.17 87.84" fill="none" stroke="#b034c8" stroke-width="1.22" stroke-linecap="round" filter="url(#bl2)"/>
<path d="M27.56 82.76 L42.03 89.56" fill="none" stroke="#b034c8" stroke-width="1.22" stroke-linecap="round" filter="url(#bl2)"/>
<rect x="78" y="79.6" width="9" height="1.6" fill="#fff"/>
<text x="91.4" y="89.3" font-size="7.2" font-weight="bold" text-anchor="end" fill="#fff">5 µm</text>
</svg>
<svg x="305.7" y="296" width="92.5" height="92.7" overflow="hidden">
<rect width="92.5" height="92.7" fill="url(#pg3)"/>
<path d="M10.90 2.90 L11.20 12.00" fill="none" stroke="#f0f0f0" stroke-opacity="0.6" stroke-width="4.4" stroke-linecap="round" filter="url(#bl)"/>
<path d="M6.40 15.70 L3.30 24.30" fill="none" stroke="#f0f0f0" stroke-opacity="0.6" stroke-width="4.4" stroke-linecap="round" filter="url(#bl)"/>
<path d="M17.31 20.23 L35.02 15.22" fill="none" stroke="#f0f0f0" stroke-opacity="0.6" stroke-width="4.4" stroke-linecap="round" filter="url(#bl)"/>
<path d="M19.62 20.61 L35.91 16.01" fill="none" stroke="#f0f0f0" stroke-opacity="0.6" stroke-width="4.4" stroke-linecap="round" filter="url(#bl)"/>
<path d="M17.85 22.15 L35.57 17.15" fill="none" stroke="#f0f0f0" stroke-opacity="0.6" stroke-width="4.4" stroke-linecap="round" filter="url(#bl)"/>
<path d="M32.20 29.70 L40.30 34.20" fill="none" stroke="#f0f0f0" stroke-opacity="0.6" stroke-width="4.4" stroke-linecap="round" filter="url(#bl)"/>
<path d="M39.70 33.10 L53.90 31.00" fill="none" stroke="#f0f0f0" stroke-opacity="0.6" stroke-width="4.4" stroke-linecap="round" filter="url(#bl)"/>
<path d="M67.58 24.35 L71.12 42.79" fill="none" stroke="#f0f0f0" stroke-opacity="0.6" stroke-width="4.4" stroke-linecap="round" filter="url(#bl)"/>
<path d="M67.00 26.66 L70.26 43.62" fill="none" stroke="#f0f0f0" stroke-opacity="0.6" stroke-width="4.4" stroke-linecap="round" filter="url(#bl)"/>
<path d="M65.61 24.73 L69.16 43.17" fill="none" stroke="#f0f0f0" stroke-opacity="0.6" stroke-width="4.4" stroke-linecap="round" filter="url(#bl)"/>
<path d="M74.00 40.50 L86.00 39.00" fill="none" stroke="#f0f0f0" stroke-opacity="0.6" stroke-width="4.4" stroke-linecap="round" filter="url(#bl)"/>
<path d="M74.00 42.33 L87.33 41.17" fill="none" stroke="#f0f0f0" stroke-opacity="0.6" stroke-width="4.4" stroke-linecap="round" filter="url(#bl)"/>
<path d="M74.00 44.17 L88.67 43.33" fill="none" stroke="#f0f0f0" stroke-opacity="0.6" stroke-width="4.4" stroke-linecap="round" filter="url(#bl)"/>
<path d="M74.00 46.00 L90.00 45.50" fill="none" stroke="#f0f0f0" stroke-opacity="0.6" stroke-width="4.4" stroke-linecap="round" filter="url(#bl)"/>
<path d="M47.80 51.50 L58.00 64.30" fill="none" stroke="#f0f0f0" stroke-opacity="0.6" stroke-width="4.4" stroke-linecap="round" filter="url(#bl)"/>
<path d="M47.04 53.16 L57.38 65.96" fill="none" stroke="#f0f0f0" stroke-opacity="0.6" stroke-width="4.4" stroke-linecap="round" filter="url(#bl)"/>
<path d="M46.27 54.83 L56.75 67.62" fill="none" stroke="#f0f0f0" stroke-opacity="0.6" stroke-width="4.4" stroke-linecap="round" filter="url(#bl)"/>
<path d="M45.51 56.49 L56.12 69.29" fill="none" stroke="#f0f0f0" stroke-opacity="0.6" stroke-width="4.4" stroke-linecap="round" filter="url(#bl)"/>
<path d="M44.75 58.15 L55.50 70.95" fill="none" stroke="#f0f0f0" stroke-opacity="0.6" stroke-width="4.4" stroke-linecap="round" filter="url(#bl)"/>
<path d="M43.99 59.81 L54.88 72.61" fill="none" stroke="#f0f0f0" stroke-opacity="0.6" stroke-width="4.4" stroke-linecap="round" filter="url(#bl)"/>
<path d="M43.23 61.47 L54.25 74.27" fill="none" stroke="#f0f0f0" stroke-opacity="0.6" stroke-width="4.4" stroke-linecap="round" filter="url(#bl)"/>
<path d="M42.46 63.14 L53.62 75.94" fill="none" stroke="#f0f0f0" stroke-opacity="0.6" stroke-width="4.4" stroke-linecap="round" filter="url(#bl)"/>
<path d="M41.70 64.80 L53.00 77.60" fill="none" stroke="#f0f0f0" stroke-opacity="0.6" stroke-width="4.4" stroke-linecap="round" filter="url(#bl)"/>
<path d="M9.00 57.00 L12.00 55.80 L13.40 57.50 L11.50 62.00 L10.00 66.90" fill="none" stroke="#f0f0f0" stroke-opacity="0.6" stroke-width="4.4" stroke-linecap="round" filter="url(#bl)"/>
<path d="M10.00 74.50 L20.20 77.10" fill="none" stroke="#f0f0f0" stroke-opacity="0.6" stroke-width="4.4" stroke-linecap="round" filter="url(#bl)"/>
<path d="M12.50 76.00 L20.00 76.80" fill="none" stroke="#f0f0f0" stroke-opacity="0.6" stroke-width="4.4" stroke-linecap="round" filter="url(#bl)"/>
<path d="M15.61 77.37 L26.24 88.00" fill="none" stroke="#f0f0f0" stroke-opacity="0.6" stroke-width="4.4" stroke-linecap="round" filter="url(#bl)"/>
<path d="M15.59 79.83 L25.36 89.60" fill="none" stroke="#f0f0f0" stroke-opacity="0.6" stroke-width="4.4" stroke-linecap="round" filter="url(#bl)"/>
<path d="M18.6 20.9 L35.6 16.1" stroke="#656565" stroke-width="3.00" stroke-linecap="round" filter="url(#bl2)"/>
<path d="M66.8 25.6 L70.2 43.3" stroke="#656565" stroke-width="3.00" stroke-linecap="round" filter="url(#bl2)"/>
<polygon points="74.0,40.5 86.0,39.0 90.0,45.5 74.0,46.0" fill="#656565" stroke="#656565" stroke-width="1" filter="url(#bl2)"/>
<polygon points="47.8,51.5 58.0,64.3 53.0,77.6 41.7,64.8" fill="#656565" stroke="#656565" stroke-width="1" filter="url(#bl2)"/>
<path d="M10.90 2.90 L11.20 12.00" fill="none" stroke="#141414" stroke-width="2.00" stroke-linecap="round" filter="url(#bl2)"/>
<path d="M6.40 15.70 L3.30 24.30" fill="none" stroke="#141414" stroke-width="2.00" stroke-linecap="round" filter="url(#bl2)"/>
<path d="M17.31 20.23 L35.02 15.22" fill="none" stroke="#141414" stroke-width="1.10" stroke-linecap="round" filter="url(#bl2)"/>
<path d="M19.62 20.61 L35.91 16.01" fill="none" stroke="#141414" stroke-width="1.10" stroke-linecap="round" filter="url(#bl2)"/>
<path d="M17.85 22.15 L35.57 17.15" fill="none" stroke="#141414" stroke-width="1.10" stroke-linecap="round" filter="url(#bl2)"/>
<path d="M32.20 29.70 L40.30 34.20" fill="none" stroke="#141414" stroke-width="2.00" stroke-linecap="round" filter="url(#bl2)"/>
<path d="M39.70 33.10 L53.90 31.00" fill="none" stroke="#141414" stroke-width="2.00" stroke-linecap="round" filter="url(#bl2)"/>
<path d="M67.58 24.35 L71.12 42.79" fill="none" stroke="#141414" stroke-width="1.10" stroke-linecap="round" filter="url(#bl2)"/>
<path d="M67.00 26.66 L70.26 43.62" fill="none" stroke="#141414" stroke-width="1.10" stroke-linecap="round" filter="url(#bl2)"/>
<path d="M65.61 24.73 L69.16 43.17" fill="none" stroke="#141414" stroke-width="1.10" stroke-linecap="round" filter="url(#bl2)"/>
<path d="M74.00 40.50 L86.00 39.00" fill="none" stroke="#141414" stroke-width="1.00" stroke-linecap="round" filter="url(#bl2)"/>
<path d="M74.00 42.33 L87.33 41.17" fill="none" stroke="#141414" stroke-width="1.00" stroke-linecap="round" filter="url(#bl2)"/>
<path d="M74.00 44.17 L88.67 43.33" fill="none" stroke="#141414" stroke-width="1.00" stroke-linecap="round" filter="url(#bl2)"/>
<path d="M74.00 46.00 L90.00 45.50" fill="none" stroke="#141414" stroke-width="1.00" stroke-linecap="round" filter="url(#bl2)"/>
<path d="M47.80 51.50 L58.00 64.30" fill="none" stroke="#141414" stroke-width="1.00" stroke-linecap="round" filter="url(#bl2)"/>
<path d="M47.04 53.16 L57.38 65.96" fill="none" stroke="#141414" stroke-width="1.00" stroke-linecap="round" filter="url(#bl2)"/>
<path d="M46.27 54.83 L56.75 67.62" fill="none" stroke="#141414" stroke-width="1.00" stroke-linecap="round" filter="url(#bl2)"/>
<path d="M45.51 56.49 L56.12 69.29" fill="none" stroke="#141414" stroke-width="1.00" stroke-linecap="round" filter="url(#bl2)"/>
<path d="M44.75 58.15 L55.50 70.95" fill="none" stroke="#141414" stroke-width="1.00" stroke-linecap="round" filter="url(#bl2)"/>
<path d="M43.99 59.81 L54.88 72.61" fill="none" stroke="#141414" stroke-width="1.00" stroke-linecap="round" filter="url(#bl2)"/>
<path d="M43.23 61.47 L54.25 74.27" fill="none" stroke="#141414" stroke-width="1.00" stroke-linecap="round" filter="url(#bl2)"/>
<path d="M42.46 63.14 L53.62 75.94" fill="none" stroke="#141414" stroke-width="1.00" stroke-linecap="round" filter="url(#bl2)"/>
<path d="M41.70 64.80 L53.00 77.60" fill="none" stroke="#141414" stroke-width="1.00" stroke-linecap="round" filter="url(#bl2)"/>
<path d="M9.00 57.00 L12.00 55.80 L13.40 57.50 L11.50 62.00 L10.00 66.90" fill="none" stroke="#141414" stroke-width="2.00" stroke-linecap="round" filter="url(#bl2)"/>
<path d="M10.00 74.50 L20.20 77.10" fill="none" stroke="#141414" stroke-width="2.00" stroke-linecap="round" filter="url(#bl2)"/>
<path d="M12.50 76.00 L20.00 76.80" fill="none" stroke="#141414" stroke-width="2.00" stroke-linecap="round" filter="url(#bl2)"/>
<path d="M15.61 77.37 L26.24 88.00" fill="none" stroke="#141414" stroke-width="1.44" stroke-linecap="round" filter="url(#bl2)"/>
<path d="M15.59 79.83 L25.36 89.60" fill="none" stroke="#141414" stroke-width="1.44" stroke-linecap="round" filter="url(#bl2)"/>
<rect x="77.5" y="79.6" width="9" height="1.6" fill="#fff"/>
<text x="90.9" y="89.3" font-size="7.2" font-weight="bold" text-anchor="end" fill="#fff">5 µm</text>
</svg>
<svg x="305.7" y="391" width="92.5" height="92.2" overflow="hidden">
<rect width="92.5" height="92.2" fill="#000"/>
<polygon points="74.0,40.5 86.0,39.0 90.0,45.5 74.0,46.0" fill="#a8a8a8" fill-opacity="0.45" filter="url(#bl2)"/>
<polygon points="47.8,51.5 58.0,64.3 53.0,77.6 41.7,64.8" fill="#a8a8a8" fill-opacity="0.45" filter="url(#bl2)"/>
<path d="M10.90 2.90 L11.20 12.00" fill="none" stroke="#a8a8a8" stroke-width="1.80" stroke-linecap="round" filter="url(#bl2)"/>
<path d="M6.40 15.70 L3.30 24.30" fill="none" stroke="#a8a8a8" stroke-width="1.80" stroke-linecap="round" filter="url(#bl2)"/>
<path d="M17.31 20.23 L35.02 15.22" fill="none" stroke="#a8a8a8" stroke-width="0.99" stroke-linecap="round" filter="url(#bl2)"/>
<path d="M19.62 20.61 L35.91 16.01" fill="none" stroke="#a8a8a8" stroke-width="0.99" stroke-linecap="round" filter="url(#bl2)"/>
<path d="M17.85 22.15 L35.57 17.15" fill="none" stroke="#a8a8a8" stroke-width="0.99" stroke-linecap="round" filter="url(#bl2)"/>
<path d="M32.20 29.70 L40.30 34.20" fill="none" stroke="#a8a8a8" stroke-width="1.80" stroke-linecap="round" filter="url(#bl2)"/>
<path d="M39.70 33.10 L53.90 31.00" fill="none" stroke="#a8a8a8" stroke-width="1.80" stroke-linecap="round" filter="url(#bl2)"/>
<path d="M67.58 24.35 L71.12 42.79" fill="none" stroke="#a8a8a8" stroke-width="0.99" stroke-linecap="round" filter="url(#bl2)"/>
<path d="M67.00 26.66 L70.26 43.62" fill="none" stroke="#a8a8a8" stroke-width="0.99" stroke-linecap="round" filter="url(#bl2)"/>
<path d="M65.61 24.73 L69.16 43.17" fill="none" stroke="#a8a8a8" stroke-width="0.99" stroke-linecap="round" filter="url(#bl2)"/>
<path d="M74.00 40.50 L86.00 39.00" fill="none" stroke="#a8a8a8" stroke-width="0.90" stroke-linecap="round" filter="url(#bl2)"/>
<path d="M74.00 42.33 L87.33 41.17" fill="none" stroke="#a8a8a8" stroke-width="0.90" stroke-linecap="round" filter="url(#bl2)"/>
<path d="M74.00 44.17 L88.67 43.33" fill="none" stroke="#a8a8a8" stroke-width="0.90" stroke-linecap="round" filter="url(#bl2)"/>
<path d="M74.00 46.00 L90.00 45.50" fill="none" stroke="#a8a8a8" stroke-width="0.90" stroke-linecap="round" filter="url(#bl2)"/>
<path d="M47.80 51.50 L58.00 64.30" fill="none" stroke="#a8a8a8" stroke-width="0.90" stroke-linecap="round" filter="url(#bl2)"/>
<path d="M47.04 53.16 L57.38 65.96" fill="none" stroke="#a8a8a8" stroke-width="0.90" stroke-linecap="round" filter="url(#bl2)"/>
<path d="M46.27 54.83 L56.75 67.62" fill="none" stroke="#a8a8a8" stroke-width="0.90" stroke-linecap="round" filter="url(#bl2)"/>
<path d="M45.51 56.49 L56.12 69.29" fill="none" stroke="#a8a8a8" stroke-width="0.90" stroke-linecap="round" filter="url(#bl2)"/>
<path d="M44.75 58.15 L55.50 70.95" fill="none" stroke="#a8a8a8" stroke-width="0.90" stroke-linecap="round" filter="url(#bl2)"/>
<path d="M43.99 59.81 L54.88 72.61" fill="none" stroke="#a8a8a8" stroke-width="0.90" stroke-linecap="round" filter="url(#bl2)"/>
<path d="M43.23 61.47 L54.25 74.27" fill="none" stroke="#a8a8a8" stroke-width="0.90" stroke-linecap="round" filter="url(#bl2)"/>
<path d="M42.46 63.14 L53.62 75.94" fill="none" stroke="#a8a8a8" stroke-width="0.90" stroke-linecap="round" filter="url(#bl2)"/>
<path d="M41.70 64.80 L53.00 77.60" fill="none" stroke="#a8a8a8" stroke-width="0.90" stroke-linecap="round" filter="url(#bl2)"/>
<path d="M9.00 57.00 L12.00 55.80 L13.40 57.50 L11.50 62.00 L10.00 66.90" fill="none" stroke="#a8a8a8" stroke-width="1.80" stroke-linecap="round" filter="url(#bl2)"/>
<path d="M10.00 74.50 L20.20 77.10" fill="none" stroke="#a8a8a8" stroke-width="1.80" stroke-linecap="round" filter="url(#bl2)"/>
<path d="M12.50 76.00 L20.00 76.80" fill="none" stroke="#a8a8a8" stroke-width="1.80" stroke-linecap="round" filter="url(#bl2)"/>
<path d="M15.61 77.37 L26.24 88.00" fill="none" stroke="#a8a8a8" stroke-width="1.30" stroke-linecap="round" filter="url(#bl2)"/>
<path d="M15.59 79.83 L25.36 89.60" fill="none" stroke="#a8a8a8" stroke-width="1.30" stroke-linecap="round" filter="url(#bl2)"/>
<rect x="77.5" y="79.6" width="9" height="1.6" fill="#fff"/>
<text x="90.9" y="89.3" font-size="7.2" font-weight="bold" text-anchor="end" fill="#fff">5 µm</text>
</svg>
<svg x="305.7" y="486" width="92.5" height="92" overflow="hidden">
<rect width="92.5" height="92" fill="url(#pg3)"/>
<path d="M10.90 2.90 L11.20 12.00" fill="none" stroke="#f0f0f0" stroke-opacity="0.6" stroke-width="4.4" stroke-linecap="round" filter="url(#bl)"/>
<path d="M6.40 15.70 L3.30 24.30" fill="none" stroke="#f0f0f0" stroke-opacity="0.6" stroke-width="4.4" stroke-linecap="round" filter="url(#bl)"/>
<path d="M17.31 20.23 L35.02 15.22" fill="none" stroke="#f0f0f0" stroke-opacity="0.6" stroke-width="4.4" stroke-linecap="round" filter="url(#bl)"/>
<path d="M19.62 20.61 L35.91 16.01" fill="none" stroke="#f0f0f0" stroke-opacity="0.6" stroke-width="4.4" stroke-linecap="round" filter="url(#bl)"/>
<path d="M17.85 22.15 L35.57 17.15" fill="none" stroke="#f0f0f0" stroke-opacity="0.6" stroke-width="4.4" stroke-linecap="round" filter="url(#bl)"/>
<path d="M32.20 29.70 L40.30 34.20" fill="none" stroke="#f0f0f0" stroke-opacity="0.6" stroke-width="4.4" stroke-linecap="round" filter="url(#bl)"/>
<path d="M39.70 33.10 L53.90 31.00" fill="none" stroke="#f0f0f0" stroke-opacity="0.6" stroke-width="4.4" stroke-linecap="round" filter="url(#bl)"/>
<path d="M67.58 24.35 L71.12 42.79" fill="none" stroke="#f0f0f0" stroke-opacity="0.6" stroke-width="4.4" stroke-linecap="round" filter="url(#bl)"/>
<path d="M67.00 26.66 L70.26 43.62" fill="none" stroke="#f0f0f0" stroke-opacity="0.6" stroke-width="4.4" stroke-linecap="round" filter="url(#bl)"/>
<path d="M65.61 24.73 L69.16 43.17" fill="none" stroke="#f0f0f0" stroke-opacity="0.6" stroke-width="4.4" stroke-linecap="round" filter="url(#bl)"/>
<path d="M74.00 40.50 L86.00 39.00" fill="none" stroke="#f0f0f0" stroke-opacity="0.6" stroke-width="4.4" stroke-linecap="round" filter="url(#bl)"/>
<path d="M74.00 42.33 L87.33 41.17" fill="none" stroke="#f0f0f0" stroke-opacity="0.6" stroke-width="4.4" stroke-linecap="round" filter="url(#bl)"/>
<path d="M74.00 44.17 L88.67 43.33" fill="none" stroke="#f0f0f0" stroke-opacity="0.6" stroke-width="4.4" stroke-linecap="round" filter="url(#bl)"/>
<path d="M74.00 46.00 L90.00 45.50" fill="none" stroke="#f0f0f0" stroke-opacity="0.6" stroke-width="4.4" stroke-linecap="round" filter="url(#bl)"/>
<path d="M47.80 51.50 L58.00 64.30" fill="none" stroke="#f0f0f0" stroke-opacity="0.6" stroke-width="4.4" stroke-linecap="round" filter="url(#bl)"/>
<path d="M47.04 53.16 L57.38 65.96" fill="none" stroke="#f0f0f0" stroke-opacity="0.6" stroke-width="4.4" stroke-linecap="round" filter="url(#bl)"/>
<path d="M46.27 54.83 L56.75 67.62" fill="none" stroke="#f0f0f0" stroke-opacity="0.6" stroke-width="4.4" stroke-linecap="round" filter="url(#bl)"/>
<path d="M45.51 56.49 L56.12 69.29" fill="none" stroke="#f0f0f0" stroke-opacity="0.6" stroke-width="4.4" stroke-linecap="round" filter="url(#bl)"/>
<path d="M44.75 58.15 L55.50 70.95" fill="none" stroke="#f0f0f0" stroke-opacity="0.6" stroke-width="4.4" stroke-linecap="round" filter="url(#bl)"/>
<path d="M43.99 59.81 L54.88 72.61" fill="none" stroke="#f0f0f0" stroke-opacity="0.6" stroke-width="4.4" stroke-linecap="round" filter="url(#bl)"/>
<path d="M43.23 61.47 L54.25 74.27" fill="none" stroke="#f0f0f0" stroke-opacity="0.6" stroke-width="4.4" stroke-linecap="round" filter="url(#bl)"/>
<path d="M42.46 63.14 L53.62 75.94" fill="none" stroke="#f0f0f0" stroke-opacity="0.6" stroke-width="4.4" stroke-linecap="round" filter="url(#bl)"/>
<path d="M41.70 64.80 L53.00 77.60" fill="none" stroke="#f0f0f0" stroke-opacity="0.6" stroke-width="4.4" stroke-linecap="round" filter="url(#bl)"/>
<path d="M9.00 57.00 L12.00 55.80 L13.40 57.50 L11.50 62.00 L10.00 66.90" fill="none" stroke="#f0f0f0" stroke-opacity="0.6" stroke-width="4.4" stroke-linecap="round" filter="url(#bl)"/>
<path d="M10.00 74.50 L20.20 77.10" fill="none" stroke="#f0f0f0" stroke-opacity="0.6" stroke-width="4.4" stroke-linecap="round" filter="url(#bl)"/>
<path d="M12.50 76.00 L20.00 76.80" fill="none" stroke="#f0f0f0" stroke-opacity="0.6" stroke-width="4.4" stroke-linecap="round" filter="url(#bl)"/>
<path d="M15.61 77.37 L26.24 88.00" fill="none" stroke="#f0f0f0" stroke-opacity="0.6" stroke-width="4.4" stroke-linecap="round" filter="url(#bl)"/>
<path d="M15.59 79.83 L25.36 89.60" fill="none" stroke="#f0f0f0" stroke-opacity="0.6" stroke-width="4.4" stroke-linecap="round" filter="url(#bl)"/>
<path d="M18.6 20.9 L35.6 16.1" stroke="#84508c" stroke-width="3.00" stroke-linecap="round" filter="url(#bl2)"/>
<path d="M66.8 25.6 L70.2 43.3" stroke="#84508c" stroke-width="3.00" stroke-linecap="round" filter="url(#bl2)"/>
<polygon points="74.0,40.5 86.0,39.0 90.0,45.5 74.0,46.0" fill="#84508c" stroke="#84508c" stroke-width="1" filter="url(#bl2)"/>
<polygon points="47.8,51.5 58.0,64.3 53.0,77.6 41.7,64.8" fill="#84508c" stroke="#84508c" stroke-width="1" filter="url(#bl2)"/>
<path d="M10.90 2.90 L11.20 12.00" fill="none" stroke="#141414" stroke-width="2.20" stroke-linecap="round" filter="url(#bl2)"/>
<path d="M6.40 15.70 L3.30 24.30" fill="none" stroke="#141414" stroke-width="2.20" stroke-linecap="round" filter="url(#bl2)"/>
<path d="M17.31 20.23 L35.02 15.22" fill="none" stroke="#141414" stroke-width="1.21" stroke-linecap="round" filter="url(#bl2)"/>
<path d="M19.62 20.61 L35.91 16.01" fill="none" stroke="#141414" stroke-width="1.21" stroke-linecap="round" filter="url(#bl2)"/>
<path d="M17.85 22.15 L35.57 17.15" fill="none" stroke="#141414" stroke-width="1.21" stroke-linecap="round" filter="url(#bl2)"/>
<path d="M32.20 29.70 L40.30 34.20" fill="none" stroke="#141414" stroke-width="2.20" stroke-linecap="round" filter="url(#bl2)"/>
<path d="M39.70 33.10 L53.90 31.00" fill="none" stroke="#141414" stroke-width="2.20" stroke-linecap="round" filter="url(#bl2)"/>
<path d="M67.58 24.35 L71.12 42.79" fill="none" stroke="#141414" stroke-width="1.21" stroke-linecap="round" filter="url(#bl2)"/>
<path d="M67.00 26.66 L70.26 43.62" fill="none" stroke="#141414" stroke-width="1.21" stroke-linecap="round" filter="url(#bl2)"/>
<path d="M65.61 24.73 L69.16 43.17" fill="none" stroke="#141414" stroke-width="1.21" stroke-linecap="round" filter="url(#bl2)"/>
<path d="M74.00 40.50 L86.00 39.00" fill="none" stroke="#141414" stroke-width="1.10" stroke-linecap="round" filter="url(#bl2)"/>
<path d="M74.00 42.33 L87.33 41.17" fill="none" stroke="#141414" stroke-width="1.10" stroke-linecap="round" filter="url(#bl2)"/>
<path d="M74.00 44.17 L88.67 43.33" fill="none" stroke="#141414" stroke-width="1.10" stroke-linecap="round" filter="url(#bl2)"/>
<path d="M74.00 46.00 L90.00 45.50" fill="none" stroke="#141414" stroke-width="1.10" stroke-linecap="round" filter="url(#bl2)"/>
<path d="M47.80 51.50 L58.00 64.30" fill="none" stroke="#141414" stroke-width="1.10" stroke-linecap="round" filter="url(#bl2)"/>
<path d="M47.04 53.16 L57.38 65.96" fill="none" stroke="#141414" stroke-width="1.10" stroke-linecap="round" filter="url(#bl2)"/>
<path d="M46.27 54.83 L56.75 67.62" fill="none" stroke="#141414" stroke-width="1.10" stroke-linecap="round" filter="url(#bl2)"/>
<path d="M45.51 56.49 L56.12 69.29" fill="none" stroke="#141414" stroke-width="1.10" stroke-linecap="round" filter="url(#bl2)"/>
<path d="M44.75 58.15 L55.50 70.95" fill="none" stroke="#141414" stroke-width="1.10" stroke-linecap="round" filter="url(#bl2)"/>
<path d="M43.99 59.81 L54.88 72.61" fill="none" stroke="#141414" stroke-width="1.10" stroke-linecap="round" filter="url(#bl2)"/>
<path d="M43.23 61.47 L54.25 74.27" fill="none" stroke="#141414" stroke-width="1.10" stroke-linecap="round" filter="url(#bl2)"/>
<path d="M42.46 63.14 L53.62 75.94" fill="none" stroke="#141414" stroke-width="1.10" stroke-linecap="round" filter="url(#bl2)"/>
<path d="M41.70 64.80 L53.00 77.60" fill="none" stroke="#141414" stroke-width="1.10" stroke-linecap="round" filter="url(#bl2)"/>
<path d="M9.00 57.00 L12.00 55.80 L13.40 57.50 L11.50 62.00 L10.00 66.90" fill="none" stroke="#141414" stroke-width="2.20" stroke-linecap="round" filter="url(#bl2)"/>
<path d="M10.00 74.50 L20.20 77.10" fill="none" stroke="#141414" stroke-width="2.20" stroke-linecap="round" filter="url(#bl2)"/>
<path d="M12.50 76.00 L20.00 76.80" fill="none" stroke="#141414" stroke-width="2.20" stroke-linecap="round" filter="url(#bl2)"/>
<path d="M15.61 77.37 L26.24 88.00" fill="none" stroke="#141414" stroke-width="1.58" stroke-linecap="round" filter="url(#bl2)"/>
<path d="M15.59 79.83 L25.36 89.60" fill="none" stroke="#141414" stroke-width="1.58" stroke-linecap="round" filter="url(#bl2)"/>
<polygon points="74.0,40.5 86.0,39.0 90.0,45.5 74.0,46.0" fill="#b434c8" fill-opacity="0.25" filter="url(#bl2)"/>
<polygon points="47.8,51.5 58.0,64.3 53.0,77.6 41.7,64.8" fill="#b434c8" fill-opacity="0.25" filter="url(#bl2)"/>
<path d="M10.90 2.90 L11.20 12.00" fill="none" stroke="#b434c8" stroke-width="1.70" stroke-linecap="round" filter="url(#bl2)"/>
<path d="M6.40 15.70 L3.30 24.30" fill="none" stroke="#b434c8" stroke-width="1.70" stroke-linecap="round" filter="url(#bl2)"/>
<path d="M17.31 20.23 L35.02 15.22" fill="none" stroke="#b434c8" stroke-width="0.94" stroke-linecap="round" filter="url(#bl2)"/>
<path d="M19.62 20.61 L35.91 16.01" fill="none" stroke="#b434c8" stroke-width="0.94" stroke-linecap="round" filter="url(#bl2)"/>
<path d="M17.85 22.15 L35.57 17.15" fill="none" stroke="#b434c8" stroke-width="0.94" stroke-linecap="round" filter="url(#bl2)"/>
<path d="M32.20 29.70 L40.30 34.20" fill="none" stroke="#b434c8" stroke-width="1.70" stroke-linecap="round" filter="url(#bl2)"/>
<path d="M39.70 33.10 L53.90 31.00" fill="none" stroke="#b434c8" stroke-width="1.70" stroke-linecap="round" filter="url(#bl2)"/>
<path d="M67.58 24.35 L71.12 42.79" fill="none" stroke="#b434c8" stroke-width="0.94" stroke-linecap="round" filter="url(#bl2)"/>
<path d="M67.00 26.66 L70.26 43.62" fill="none" stroke="#b434c8" stroke-width="0.94" stroke-linecap="round" filter="url(#bl2)"/>
<path d="M65.61 24.73 L69.16 43.17" fill="none" stroke="#b434c8" stroke-width="0.94" stroke-linecap="round" filter="url(#bl2)"/>
<path d="M74.00 40.50 L86.00 39.00" fill="none" stroke="#b434c8" stroke-width="0.85" stroke-linecap="round" filter="url(#bl2)"/>
<path d="M74.00 42.33 L87.33 41.17" fill="none" stroke="#b434c8" stroke-width="0.85" stroke-linecap="round" filter="url(#bl2)"/>
<path d="M74.00 44.17 L88.67 43.33" fill="none" stroke="#b434c8" stroke-width="0.85" stroke-linecap="round" filter="url(#bl2)"/>
<path d="M74.00 46.00 L90.00 45.50" fill="none" stroke="#b434c8" stroke-width="0.85" stroke-linecap="round" filter="url(#bl2)"/>
<path d="M47.80 51.50 L58.00 64.30" fill="none" stroke="#b434c8" stroke-width="0.85" stroke-linecap="round" filter="url(#bl2)"/>
<path d="M47.04 53.16 L57.38 65.96" fill="none" stroke="#b434c8" stroke-width="0.85" stroke-linecap="round" filter="url(#bl2)"/>
<path d="M46.27 54.83 L56.75 67.62" fill="none" stroke="#b434c8" stroke-width="0.85" stroke-linecap="round" filter="url(#bl2)"/>
<path d="M45.51 56.49 L56.12 69.29" fill="none" stroke="#b434c8" stroke-width="0.85" stroke-linecap="round" filter="url(#bl2)"/>
<path d="M44.75 58.15 L55.50 70.95" fill="none" stroke="#b434c8" stroke-width="0.85" stroke-linecap="round" filter="url(#bl2)"/>
<path d="M43.99 59.81 L54.88 72.61" fill="none" stroke="#b434c8" stroke-width="0.85" stroke-linecap="round" filter="url(#bl2)"/>
<path d="M43.23 61.47 L54.25 74.27" fill="none" stroke="#b434c8" stroke-width="0.85" stroke-linecap="round" filter="url(#bl2)"/>
<path d="M42.46 63.14 L53.62 75.94" fill="none" stroke="#b434c8" stroke-width="0.85" stroke-linecap="round" filter="url(#bl2)"/>
<path d="M41.70 64.80 L53.00 77.60" fill="none" stroke="#b434c8" stroke-width="0.85" stroke-linecap="round" filter="url(#bl2)"/>
<path d="M9.00 57.00 L12.00 55.80 L13.40 57.50 L11.50 62.00 L10.00 66.90" fill="none" stroke="#b434c8" stroke-width="1.70" stroke-linecap="round" filter="url(#bl2)"/>
<path d="M10.00 74.50 L20.20 77.10" fill="none" stroke="#b434c8" stroke-width="1.70" stroke-linecap="round" filter="url(#bl2)"/>
<path d="M12.50 76.00 L20.00 76.80" fill="none" stroke="#b434c8" stroke-width="1.70" stroke-linecap="round" filter="url(#bl2)"/>
<path d="M15.61 77.37 L26.24 88.00" fill="none" stroke="#b434c8" stroke-width="1.22" stroke-linecap="round" filter="url(#bl2)"/>
<path d="M15.59 79.83 L25.36 89.60" fill="none" stroke="#b434c8" stroke-width="1.22" stroke-linecap="round" filter="url(#bl2)"/>
<rect x="77.5" y="79.6" width="9" height="1.6" fill="#fff"/>
<text x="90.9" y="89.3" font-size="7.2" font-weight="bold" text-anchor="end" fill="#fff">5 µm</text>
</svg>
<svg x="401" y="296" width="92.5" height="92.7" overflow="hidden">
<rect width="92.5" height="92.7" fill="url(#pg4)"/>
<path d="M43.18 20.58 L49.85 12.14" fill="none" stroke="#f0f0f0" stroke-opacity="0.6" stroke-width="4.4" stroke-linecap="round" filter="url(#bl)"/>
<path d="M45.22 20.62 L51.35 12.86" fill="none" stroke="#f0f0f0" stroke-opacity="0.6" stroke-width="4.4" stroke-linecap="round" filter="url(#bl)"/>
<path d="M53.26 21.84 L65.87 24.86" fill="none" stroke="#f0f0f0" stroke-opacity="0.6" stroke-width="4.4" stroke-linecap="round" filter="url(#bl)"/>
<path d="M54.34 23.76 L65.93 26.54" fill="none" stroke="#f0f0f0" stroke-opacity="0.6" stroke-width="4.4" stroke-linecap="round" filter="url(#bl)"/>
<path d="M1.31 60.86 L14.55 46.69" fill="none" stroke="#f0f0f0" stroke-opacity="0.6" stroke-width="4.4" stroke-linecap="round" filter="url(#bl)"/>
<path d="M3.86 60.18 L16.03 47.16" fill="none" stroke="#f0f0f0" stroke-opacity="0.6" stroke-width="4.4" stroke-linecap="round" filter="url(#bl)"/>
<path d="M3.36 62.77 L16.59 48.60" fill="none" stroke="#f0f0f0" stroke-opacity="0.6" stroke-width="4.4" stroke-linecap="round" filter="url(#bl)"/>
<path d="M24.95 59.03 L38.81 48.19" fill="none" stroke="#f0f0f0" stroke-opacity="0.6" stroke-width="4.4" stroke-linecap="round" filter="url(#bl)"/>
<path d="M27.38 58.84 L40.12 48.88" fill="none" stroke="#f0f0f0" stroke-opacity="0.6" stroke-width="4.4" stroke-linecap="round" filter="url(#bl)"/>
<path d="M26.62 61.16 L40.48 50.32" fill="none" stroke="#f0f0f0" stroke-opacity="0.6" stroke-width="4.4" stroke-linecap="round" filter="url(#bl)"/>
<path d="M29.05 60.97 L41.79 51.01" fill="none" stroke="#f0f0f0" stroke-opacity="0.6" stroke-width="4.4" stroke-linecap="round" filter="url(#bl)"/>
<path d="M26.00 62.00 L36.00 59.50" fill="none" stroke="#f0f0f0" stroke-opacity="0.6" stroke-width="4.4" stroke-linecap="round" filter="url(#bl)"/>
<path d="M26.00 63.90 L35.80 61.10" fill="none" stroke="#f0f0f0" stroke-opacity="0.6" stroke-width="4.4" stroke-linecap="round" filter="url(#bl)"/>
<path d="M26.00 65.80 L35.60 62.70" fill="none" stroke="#f0f0f0" stroke-opacity="0.6" stroke-width="4.4" stroke-linecap="round" filter="url(#bl)"/>
<path d="M26.00 67.70 L35.40 64.30" fill="none" stroke="#f0f0f0" stroke-opacity="0.6" stroke-width="4.4" stroke-linecap="round" filter="url(#bl)"/>
<path d="M26.00 69.60 L35.20 65.90" fill="none" stroke="#f0f0f0" stroke-opacity="0.6" stroke-width="4.4" stroke-linecap="round" filter="url(#bl)"/>
<path d="M26.00 71.50 L35.00 67.50" fill="none" stroke="#f0f0f0" stroke-opacity="0.6" stroke-width="4.4" stroke-linecap="round" filter="url(#bl)"/>
<path d="M42.87 82.62 L52.04 68.44" fill="none" stroke="#f0f0f0" stroke-opacity="0.6" stroke-width="4.4" stroke-linecap="round" filter="url(#bl)"/>
<path d="M45.06 81.72 L53.49 68.69" fill="none" stroke="#f0f0f0" stroke-opacity="0.6" stroke-width="4.4" stroke-linecap="round" filter="url(#bl)"/>
<path d="M45.14 84.08 L54.31 69.91" fill="none" stroke="#f0f0f0" stroke-opacity="0.6" stroke-width="4.4" stroke-linecap="round" filter="url(#bl)"/>
<path d="M47.33 83.18 L55.76 70.16" fill="none" stroke="#f0f0f0" stroke-opacity="0.6" stroke-width="4.4" stroke-linecap="round" filter="url(#bl)"/>
<path d="M87.50 54.30 L81.90 69.40" fill="none" stroke="#f0f0f0" stroke-opacity="0.6" stroke-width="4.4" stroke-linecap="round" filter="url(#bl)"/>
<path d="M3.1 61 L15.8 47.4" stroke="#656565" stroke-width="3.80" stroke-linecap="round" filter="url(#bl2)"/>
<path d="M27 60 L40.3 49.6" stroke="#656565" stroke-width="5.05" stroke-linecap="round" filter="url(#bl2)"/>
<polygon points="26.0,62.0 36.0,59.5 35.0,67.5 26.0,71.5" fill="#656565" stroke="#656565" stroke-width="1" filter="url(#bl2)"/>
<path d="M45.1 82.9 L53.9 69.3" stroke="#656565" stroke-width="5.05" stroke-linecap="round" filter="url(#bl2)"/>
<path d="M43.18 20.58 L49.85 12.14" fill="none" stroke="#141414" stroke-width="1.44" stroke-linecap="round" filter="url(#bl2)"/>
<path d="M45.22 20.62 L51.35 12.86" fill="none" stroke="#141414" stroke-width="1.44" stroke-linecap="round" filter="url(#bl2)"/>
<path d="M53.26 21.84 L65.87 24.86" fill="none" stroke="#141414" stroke-width="1.44" stroke-linecap="round" filter="url(#bl2)"/>
<path d="M54.34 23.76 L65.93 26.54" fill="none" stroke="#141414" stroke-width="1.44" stroke-linecap="round" filter="url(#bl2)"/>
<path d="M1.31 60.86 L14.55 46.69" fill="none" stroke="#141414" stroke-width="1.10" stroke-linecap="round" filter="url(#bl2)"/>
<path d="M3.86 60.18 L16.03 47.16" fill="none" stroke="#141414" stroke-width="1.10" stroke-linecap="round" filter="url(#bl2)"/>
<path d="M3.36 62.77 L16.59 48.60" fill="none" stroke="#141414" stroke-width="1.10" stroke-linecap="round" filter="url(#bl2)"/>
<path d="M24.95 59.03 L38.81 48.19" fill="none" stroke="#141414" stroke-width="1.10" stroke-linecap="round" filter="url(#bl2)"/>
<path d="M27.38 58.84 L40.12 48.88" fill="none" stroke="#141414" stroke-width="1.10" stroke-linecap="round" filter="url(#bl2)"/>
<path d="M26.62 61.16 L40.48 50.32" fill="none" stroke="#141414" stroke-width="1.10" stroke-linecap="round" filter="url(#bl2)"/>
<path d="M29.05 60.97 L41.79 51.01" fill="none" stroke="#141414" stroke-width="1.10" stroke-linecap="round" filter="url(#bl2)"/>
<path d="M26.00 62.00 L36.00 59.50" fill="none" stroke="#141414" stroke-width="1.00" stroke-linecap="round" filter="url(#bl2)"/>
<path d="M26.00 63.90 L35.80 61.10" fill="none" stroke="#141414" stroke-width="1.00" stroke-linecap="round" filter="url(#bl2)"/>
<path d="M26.00 65.80 L35.60 62.70" fill="none" stroke="#141414" stroke-width="1.00" stroke-linecap="round" filter="url(#bl2)"/>
<path d="M26.00 67.70 L35.40 64.30" fill="none" stroke="#141414" stroke-width="1.00" stroke-linecap="round" filter="url(#bl2)"/>
<path d="M26.00 69.60 L35.20 65.90" fill="none" stroke="#141414" stroke-width="1.00" stroke-linecap="round" filter="url(#bl2)"/>
<path d="M26.00 71.50 L35.00 67.50" fill="none" stroke="#141414" stroke-width="1.00" stroke-linecap="round" filter="url(#bl2)"/>
<path d="M42.87 82.62 L52.04 68.44" fill="none" stroke="#141414" stroke-width="1.10" stroke-linecap="round" filter="url(#bl2)"/>
<path d="M45.06 81.72 L53.49 68.69" fill="none" stroke="#141414" stroke-width="1.10" stroke-linecap="round" filter="url(#bl2)"/>
<path d="M45.14 84.08 L54.31 69.91" fill="none" stroke="#141414" stroke-width="1.10" stroke-linecap="round" filter="url(#bl2)"/>
<path d="M47.33 83.18 L55.76 70.16" fill="none" stroke="#141414" stroke-width="1.10" stroke-linecap="round" filter="url(#bl2)"/>
<path d="M87.50 54.30 L81.90 69.40" fill="none" stroke="#141414" stroke-width="2.00" stroke-linecap="round" filter="url(#bl2)"/>
<rect x="77.5" y="79.6" width="9" height="1.6" fill="#fff"/>
<text x="90.9" y="89.3" font-size="7.2" font-weight="bold" text-anchor="end" fill="#fff">5 µm</text>
</svg>
<svg x="401" y="391" width="92.5" height="92.2" overflow="hidden">
<rect width="92.5" height="92.2" fill="#000"/>
<polygon points="26.0,62.0 36.0,59.5 35.0,67.5 26.0,71.5" fill="#8e8e8e" fill-opacity="0.45" filter="url(#bl2)"/>
<path d="M43.18 20.58 L49.85 12.14" fill="none" stroke="#8e8e8e" stroke-width="1.30" stroke-linecap="round" filter="url(#bl2)"/>
<path d="M45.22 20.62 L51.35 12.86" fill="none" stroke="#8e8e8e" stroke-width="1.30" stroke-linecap="round" filter="url(#bl2)"/>
<path d="M53.26 21.84 L65.87 24.86" fill="none" stroke="#8e8e8e" stroke-width="1.30" stroke-linecap="round" filter="url(#bl2)"/>
<path d="M54.34 23.76 L65.93 26.54" fill="none" stroke="#8e8e8e" stroke-width="1.30" stroke-linecap="round" filter="url(#bl2)"/>
<path d="M1.31 60.86 L14.55 46.69" fill="none" stroke="#8e8e8e" stroke-width="0.99" stroke-linecap="round" filter="url(#bl2)"/>
<path d="M3.86 60.18 L16.03 47.16" fill="none" stroke="#8e8e8e" stroke-width="0.99" stroke-linecap="round" filter="url(#bl2)"/>
<path d="M3.36 62.77 L16.59 48.60" fill="none" stroke="#8e8e8e" stroke-width="0.99" stroke-linecap="round" filter="url(#bl2)"/>
<path d="M24.95 59.03 L38.81 48.19" fill="none" stroke="#8e8e8e" stroke-width="0.99" stroke-linecap="round" filter="url(#bl2)"/>
<path d="M27.38 58.84 L40.12 48.88" fill="none" stroke="#8e8e8e" stroke-width="0.99" stroke-linecap="round" filter="url(#bl2)"/>
<path d="M26.62 61.16 L40.48 50.32" fill="none" stroke="#8e8e8e" stroke-width="0.99" stroke-linecap="round" filter="url(#bl2)"/>
<path d="M29.05 60.97 L41.79 51.01" fill="none" stroke="#8e8e8e" stroke-width="0.99" stroke-linecap="round" filter="url(#bl2)"/>
<path d="M26.00 62.00 L36.00 59.50" fill="none" stroke="#8e8e8e" stroke-width="0.90" stroke-linecap="round" filter="url(#bl2)"/>
<path d="M26.00 63.90 L35.80 61.10" fill="none" stroke="#8e8e8e" stroke-width="0.90" stroke-linecap="round" filter="url(#bl2)"/>
<path d="M26.00 65.80 L35.60 62.70" fill="none" stroke="#8e8e8e" stroke-width="0.90" stroke-linecap="round" filter="url(#bl2)"/>
<path d="M26.00 67.70 L35.40 64.30" fill="none" stroke="#8e8e8e" stroke-width="0.90" stroke-linecap="round" filter="url(#bl2)"/>
<path d="M26.00 69.60 L35.20 65.90" fill="none" stroke="#8e8e8e" stroke-width="0.90" stroke-linecap="round" filter="url(#bl2)"/>
<path d="M26.00 71.50 L35.00 67.50" fill="none" stroke="#8e8e8e" stroke-width="0.90" stroke-linecap="round" filter="url(#bl2)"/>
<path d="M42.87 82.62 L52.04 68.44" fill="none" stroke="#8e8e8e" stroke-width="0.99" stroke-linecap="round" filter="url(#bl2)"/>
<path d="M45.06 81.72 L53.49 68.69" fill="none" stroke="#8e8e8e" stroke-width="0.99" stroke-linecap="round" filter="url(#bl2)"/>
<path d="M45.14 84.08 L54.31 69.91" fill="none" stroke="#8e8e8e" stroke-width="0.99" stroke-linecap="round" filter="url(#bl2)"/>
<path d="M47.33 83.18 L55.76 70.16" fill="none" stroke="#8e8e8e" stroke-width="0.99" stroke-linecap="round" filter="url(#bl2)"/>
<path d="M87.50 54.30 L81.90 69.40" fill="none" stroke="#8e8e8e" stroke-width="1.80" stroke-linecap="round" filter="url(#bl2)"/>
<rect x="77.5" y="79.6" width="9" height="1.6" fill="#fff"/>
<text x="90.9" y="89.3" font-size="7.2" font-weight="bold" text-anchor="end" fill="#fff">5 µm</text>
</svg>
<svg x="401" y="486" width="92.5" height="92" overflow="hidden">
<rect width="92.5" height="92" fill="url(#pg4)"/>
<path d="M43.18 20.58 L49.85 12.14" fill="none" stroke="#f0f0f0" stroke-opacity="0.6" stroke-width="4.4" stroke-linecap="round" filter="url(#bl)"/>
<path d="M45.22 20.62 L51.35 12.86" fill="none" stroke="#f0f0f0" stroke-opacity="0.6" stroke-width="4.4" stroke-linecap="round" filter="url(#bl)"/>
<path d="M53.26 21.84 L65.87 24.86" fill="none" stroke="#f0f0f0" stroke-opacity="0.6" stroke-width="4.4" stroke-linecap="round" filter="url(#bl)"/>
<path d="M54.34 23.76 L65.93 26.54" fill="none" stroke="#f0f0f0" stroke-opacity="0.6" stroke-width="4.4" stroke-linecap="round" filter="url(#bl)"/>
<path d="M1.31 60.86 L14.55 46.69" fill="none" stroke="#f0f0f0" stroke-opacity="0.6" stroke-width="4.4" stroke-linecap="round" filter="url(#bl)"/>
<path d="M3.86 60.18 L16.03 47.16" fill="none" stroke="#f0f0f0" stroke-opacity="0.6" stroke-width="4.4" stroke-linecap="round" filter="url(#bl)"/>
<path d="M3.36 62.77 L16.59 48.60" fill="none" stroke="#f0f0f0" stroke-opacity="0.6" stroke-width="4.4" stroke-linecap="round" filter="url(#bl)"/>
<path d="M24.95 59.03 L38.81 48.19" fill="none" stroke="#f0f0f0" stroke-opacity="0.6" stroke-width="4.4" stroke-linecap="round" filter="url(#bl)"/>
<path d="M27.38 58.84 L40.12 48.88" fill="none" stroke="#f0f0f0" stroke-opacity="0.6" stroke-width="4.4" stroke-linecap="round" filter="url(#bl)"/>
<path d="M26.62 61.16 L40.48 50.32" fill="none" stroke="#f0f0f0" stroke-opacity="0.6" stroke-width="4.4" stroke-linecap="round" filter="url(#bl)"/>
<path d="M29.05 60.97 L41.79 51.01" fill="none" stroke="#f0f0f0" stroke-opacity="0.6" stroke-width="4.4" stroke-linecap="round" filter="url(#bl)"/>
<path d="M26.00 62.00 L36.00 59.50" fill="none" stroke="#f0f0f0" stroke-opacity="0.6" stroke-width="4.4" stroke-linecap="round" filter="url(#bl)"/>
<path d="M26.00 63.90 L35.80 61.10" fill="none" stroke="#f0f0f0" stroke-opacity="0.6" stroke-width="4.4" stroke-linecap="round" filter="url(#bl)"/>
<path d="M26.00 65.80 L35.60 62.70" fill="none" stroke="#f0f0f0" stroke-opacity="0.6" stroke-width="4.4" stroke-linecap="round" filter="url(#bl)"/>
<path d="M26.00 67.70 L35.40 64.30" fill="none" stroke="#f0f0f0" stroke-opacity="0.6" stroke-width="4.4" stroke-linecap="round" filter="url(#bl)"/>
<path d="M26.00 69.60 L35.20 65.90" fill="none" stroke="#f0f0f0" stroke-opacity="0.6" stroke-width="4.4" stroke-linecap="round" filter="url(#bl)"/>
<path d="M26.00 71.50 L35.00 67.50" fill="none" stroke="#f0f0f0" stroke-opacity="0.6" stroke-width="4.4" stroke-linecap="round" filter="url(#bl)"/>
<path d="M42.87 82.62 L52.04 68.44" fill="none" stroke="#f0f0f0" stroke-opacity="0.6" stroke-width="4.4" stroke-linecap="round" filter="url(#bl)"/>
<path d="M45.06 81.72 L53.49 68.69" fill="none" stroke="#f0f0f0" stroke-opacity="0.6" stroke-width="4.4" stroke-linecap="round" filter="url(#bl)"/>
<path d="M45.14 84.08 L54.31 69.91" fill="none" stroke="#f0f0f0" stroke-opacity="0.6" stroke-width="4.4" stroke-linecap="round" filter="url(#bl)"/>
<path d="M47.33 83.18 L55.76 70.16" fill="none" stroke="#f0f0f0" stroke-opacity="0.6" stroke-width="4.4" stroke-linecap="round" filter="url(#bl)"/>
<path d="M87.50 54.30 L81.90 69.40" fill="none" stroke="#f0f0f0" stroke-opacity="0.6" stroke-width="4.4" stroke-linecap="round" filter="url(#bl)"/>
<path d="M3.1 61 L15.8 47.4" stroke="#84508c" stroke-width="3.80" stroke-linecap="round" filter="url(#bl2)"/>
<path d="M27 60 L40.3 49.6" stroke="#84508c" stroke-width="5.05" stroke-linecap="round" filter="url(#bl2)"/>
<polygon points="26.0,62.0 36.0,59.5 35.0,67.5 26.0,71.5" fill="#84508c" stroke="#84508c" stroke-width="1" filter="url(#bl2)"/>
<path d="M45.1 82.9 L53.9 69.3" stroke="#84508c" stroke-width="5.05" stroke-linecap="round" filter="url(#bl2)"/>
<path d="M43.18 20.58 L49.85 12.14" fill="none" stroke="#141414" stroke-width="1.58" stroke-linecap="round" filter="url(#bl2)"/>
<path d="M45.22 20.62 L51.35 12.86" fill="none" stroke="#141414" stroke-width="1.58" stroke-linecap="round" filter="url(#bl2)"/>
<path d="M53.26 21.84 L65.87 24.86" fill="none" stroke="#141414" stroke-width="1.58" stroke-linecap="round" filter="url(#bl2)"/>
<path d="M54.34 23.76 L65.93 26.54" fill="none" stroke="#141414" stroke-width="1.58" stroke-linecap="round" filter="url(#bl2)"/>
<path d="M1.31 60.86 L14.55 46.69" fill="none" stroke="#141414" stroke-width="1.21" stroke-linecap="round" filter="url(#bl2)"/>
<path d="M3.86 60.18 L16.03 47.16" fill="none" stroke="#141414" stroke-width="1.21" stroke-linecap="round" filter="url(#bl2)"/>
<path d="M3.36 62.77 L16.59 48.60" fill="none" stroke="#141414" stroke-width="1.21" stroke-linecap="round" filter="url(#bl2)"/>
<path d="M24.95 59.03 L38.81 48.19" fill="none" stroke="#141414" stroke-width="1.21" stroke-linecap="round" filter="url(#bl2)"/>
<path d="M27.38 58.84 L40.12 48.88" fill="none" stroke="#141414" stroke-width="1.21" stroke-linecap="round" filter="url(#bl2)"/>
<path d="M26.62 61.16 L40.48 50.32" fill="none" stroke="#141414" stroke-width="1.21" stroke-linecap="round" filter="url(#bl2)"/>
<path d="M29.05 60.97 L41.79 51.01" fill="none" stroke="#141414" stroke-width="1.21" stroke-linecap="round" filter="url(#bl2)"/>
<path d="M26.00 62.00 L36.00 59.50" fill="none" stroke="#141414" stroke-width="1.10" stroke-linecap="round" filter="url(#bl2)"/>
<path d="M26.00 63.90 L35.80 61.10" fill="none" stroke="#141414" stroke-width="1.10" stroke-linecap="round" filter="url(#bl2)"/>
<path d="M26.00 65.80 L35.60 62.70" fill="none" stroke="#141414" stroke-width="1.10" stroke-linecap="round" filter="url(#bl2)"/>
<path d="M26.00 67.70 L35.40 64.30" fill="none" stroke="#141414" stroke-width="1.10" stroke-linecap="round" filter="url(#bl2)"/>
<path d="M26.00 69.60 L35.20 65.90" fill="none" stroke="#141414" stroke-width="1.10" stroke-linecap="round" filter="url(#bl2)"/>
<path d="M26.00 71.50 L35.00 67.50" fill="none" stroke="#141414" stroke-width="1.10" stroke-linecap="round" filter="url(#bl2)"/>
<path d="M42.87 82.62 L52.04 68.44" fill="none" stroke="#141414" stroke-width="1.21" stroke-linecap="round" filter="url(#bl2)"/>
<path d="M45.06 81.72 L53.49 68.69" fill="none" stroke="#141414" stroke-width="1.21" stroke-linecap="round" filter="url(#bl2)"/>
<path d="M45.14 84.08 L54.31 69.91" fill="none" stroke="#141414" stroke-width="1.21" stroke-linecap="round" filter="url(#bl2)"/>
<path d="M47.33 83.18 L55.76 70.16" fill="none" stroke="#141414" stroke-width="1.21" stroke-linecap="round" filter="url(#bl2)"/>
<path d="M87.50 54.30 L81.90 69.40" fill="none" stroke="#141414" stroke-width="2.20" stroke-linecap="round" filter="url(#bl2)"/>
<polygon points="26.0,62.0 36.0,59.5 35.0,67.5 26.0,71.5" fill="#b232c6" fill-opacity="0.25" filter="url(#bl2)"/>
<path d="M43.18 20.58 L49.85 12.14" fill="none" stroke="#b232c6" stroke-width="1.22" stroke-linecap="round" filter="url(#bl2)"/>
<path d="M45.22 20.62 L51.35 12.86" fill="none" stroke="#b232c6" stroke-width="1.22" stroke-linecap="round" filter="url(#bl2)"/>
<path d="M53.26 21.84 L65.87 24.86" fill="none" stroke="#b232c6" stroke-width="1.22" stroke-linecap="round" filter="url(#bl2)"/>
<path d="M54.34 23.76 L65.93 26.54" fill="none" stroke="#b232c6" stroke-width="1.22" stroke-linecap="round" filter="url(#bl2)"/>
<path d="M1.31 60.86 L14.55 46.69" fill="none" stroke="#b232c6" stroke-width="0.94" stroke-linecap="round" filter="url(#bl2)"/>
<path d="M3.86 60.18 L16.03 47.16" fill="none" stroke="#b232c6" stroke-width="0.94" stroke-linecap="round" filter="url(#bl2)"/>
<path d="M3.36 62.77 L16.59 48.60" fill="none" stroke="#b232c6" stroke-width="0.94" stroke-linecap="round" filter="url(#bl2)"/>
<path d="M24.95 59.03 L38.81 48.19" fill="none" stroke="#b232c6" stroke-width="0.94" stroke-linecap="round" filter="url(#bl2)"/>
<path d="M27.38 58.84 L40.12 48.88" fill="none" stroke="#b232c6" stroke-width="0.94" stroke-linecap="round" filter="url(#bl2)"/>
<path d="M26.62 61.16 L40.48 50.32" fill="none" stroke="#b232c6" stroke-width="0.94" stroke-linecap="round" filter="url(#bl2)"/>
<path d="M29.05 60.97 L41.79 51.01" fill="none" stroke="#b232c6" stroke-width="0.94" stroke-linecap="round" filter="url(#bl2)"/>
<path d="M26.00 62.00 L36.00 59.50" fill="none" stroke="#b232c6" stroke-width="0.85" stroke-linecap="round" filter="url(#bl2)"/>
<path d="M26.00 63.90 L35.80 61.10" fill="none" stroke="#b232c6" stroke-width="0.85" stroke-linecap="round" filter="url(#bl2)"/>
<path d="M26.00 65.80 L35.60 62.70" fill="none" stroke="#b232c6" stroke-width="0.85" stroke-linecap="round" filter="url(#bl2)"/>
<path d="M26.00 67.70 L35.40 64.30" fill="none" stroke="#b232c6" stroke-width="0.85" stroke-linecap="round" filter="url(#bl2)"/>
<path d="M26.00 69.60 L35.20 65.90" fill="none" stroke="#b232c6" stroke-width="0.85" stroke-linecap="round" filter="url(#bl2)"/>
<path d="M26.00 71.50 L35.00 67.50" fill="none" stroke="#b232c6" stroke-width="0.85" stroke-linecap="round" filter="url(#bl2)"/>
<path d="M42.87 82.62 L52.04 68.44" fill="none" stroke="#b232c6" stroke-width="0.94" stroke-linecap="round" filter="url(#bl2)"/>
<path d="M45.06 81.72 L53.49 68.69" fill="none" stroke="#b232c6" stroke-width="0.94" stroke-linecap="round" filter="url(#bl2)"/>
<path d="M45.14 84.08 L54.31 69.91" fill="none" stroke="#b232c6" stroke-width="0.94" stroke-linecap="round" filter="url(#bl2)"/>
<path d="M47.33 83.18 L55.76 70.16" fill="none" stroke="#b232c6" stroke-width="0.94" stroke-linecap="round" filter="url(#bl2)"/>
<path d="M87.50 54.30 L81.90 69.40" fill="none" stroke="#b232c6" stroke-width="1.70" stroke-linecap="round" filter="url(#bl2)"/>
<rect x="77.5" y="79.6" width="9" height="1.6" fill="#fff"/>
<text x="90.9" y="89.3" font-size="7.2" font-weight="bold" text-anchor="end" fill="#fff">5 µm</text>
</svg>
<svg x="496.6" y="296" width="92.3" height="92.7" overflow="hidden">
<rect width="92.3" height="92.7" fill="url(#pg5)"/>
<path d="M25.50 31.50 L31.00 22.50" fill="none" stroke="#f0f0f0" stroke-opacity="0.6" stroke-width="4.4" stroke-linecap="round" filter="url(#bl)"/>
<path d="M26.56 31.50 L32.06 22.50" fill="none" stroke="#f0f0f0" stroke-opacity="0.6" stroke-width="4.4" stroke-linecap="round" filter="url(#bl)"/>
<path d="M27.62 31.50 L33.12 22.50" fill="none" stroke="#f0f0f0" stroke-opacity="0.6" stroke-width="4.4" stroke-linecap="round" filter="url(#bl)"/>
<path d="M28.68 31.50 L34.18 22.50" fill="none" stroke="#f0f0f0" stroke-opacity="0.6" stroke-width="4.4" stroke-linecap="round" filter="url(#bl)"/>
<path d="M29.74 31.50 L35.24 22.50" fill="none" stroke="#f0f0f0" stroke-opacity="0.6" stroke-width="4.4" stroke-linecap="round" filter="url(#bl)"/>
<path d="M30.80 31.50 L36.30 22.50" fill="none" stroke="#f0f0f0" stroke-opacity="0.6" stroke-width="4.4" stroke-linecap="round" filter="url(#bl)"/>
<path d="M36.50 28.50 L44.00 23.00" fill="none" stroke="#f0f0f0" stroke-opacity="0.6" stroke-width="4.4" stroke-linecap="round" filter="url(#bl)"/>
<path d="M40.00 29.00 L48.00 24.50" fill="none" stroke="#f0f0f0" stroke-opacity="0.6" stroke-width="4.4" stroke-linecap="round" filter="url(#bl)"/>
<path d="M40.00 29.50 L56.00 26.00" fill="none" stroke="#f0f0f0" stroke-opacity="0.6" stroke-width="4.4" stroke-linecap="round" filter="url(#bl)"/>
<path d="M48.00 25.00 L57.00 23.50" fill="none" stroke="#f0f0f0" stroke-opacity="0.6" stroke-width="4.4" stroke-linecap="round" filter="url(#bl)"/>
<path d="M49.00 25.30 L58.70 24.30" fill="none" stroke="#f0f0f0" stroke-opacity="0.6" stroke-width="4.4" stroke-linecap="round" filter="url(#bl)"/>
<path d="M58.70 22.30 L69.00 23.30" fill="none" stroke="#f0f0f0" stroke-opacity="0.6" stroke-width="4.4" stroke-linecap="round" filter="url(#bl)"/>
<path d="M64.37 39.87 L73.02 25.28" fill="none" stroke="#f0f0f0" stroke-opacity="0.6" stroke-width="4.4" stroke-linecap="round" filter="url(#bl)"/>
<path d="M66.18 38.68 L74.13 25.26" fill="none" stroke="#f0f0f0" stroke-opacity="0.6" stroke-width="4.4" stroke-linecap="round" filter="url(#bl)"/>
<path d="M66.00 40.84 L74.65 26.25" fill="none" stroke="#f0f0f0" stroke-opacity="0.6" stroke-width="4.4" stroke-linecap="round" filter="url(#bl)"/>
<path d="M67.82 39.64 L75.77 26.23" fill="none" stroke="#f0f0f0" stroke-opacity="0.6" stroke-width="4.4" stroke-linecap="round" filter="url(#bl)"/>
<path d="M67.64 41.81 L76.28 27.22" fill="none" stroke="#f0f0f0" stroke-opacity="0.6" stroke-width="4.4" stroke-linecap="round" filter="url(#bl)"/>
<path d="M72.00 27.00 L82.20 13.60" fill="none" stroke="#f0f0f0" stroke-opacity="0.6" stroke-width="4.4" stroke-linecap="round" filter="url(#bl)"/>
<path d="M2.40 55.40 L9.60 45.80" fill="none" stroke="#f0f0f0" stroke-opacity="0.6" stroke-width="4.4" stroke-linecap="round" filter="url(#bl)"/>
<path d="M81.10 54.60 L88.30 48.20" fill="none" stroke="#f0f0f0" stroke-opacity="0.6" stroke-width="4.4" stroke-linecap="round" filter="url(#bl)"/>
<path d="M19.30 66.70 L27.00 72.00" fill="none" stroke="#f0f0f0" stroke-opacity="0.6" stroke-width="4.4" stroke-linecap="round" filter="url(#bl)"/>
<path d="M61.00 75.50 L66.20 68.70" fill="none" stroke="#f0f0f0" stroke-opacity="0.6" stroke-width="4.4" stroke-linecap="round" filter="url(#bl)"/>
<path d="M6.70 86.70 L18.50 79.50" fill="none" stroke="#f0f0f0" stroke-opacity="0.6" stroke-width="4.4" stroke-linecap="round" filter="url(#bl)"/>
<path d="M45.80 85.90 L59.40 87.50" fill="none" stroke="#f0f0f0" stroke-opacity="0.6" stroke-width="4.4" stroke-linecap="round" filter="url(#bl)"/>
<polygon points="25.5,31.5 31.0,22.5 36.3,22.5 30.8,31.5" fill="#656565" stroke="#656565" stroke-width="1" filter="url(#bl2)"/>
<path d="M66.5 40 L74.8 26" stroke="#656565" stroke-width="4.80" stroke-linecap="round" filter="url(#bl2)"/>
<path d="M25.50 31.50 L31.00 22.50" fill="none" stroke="#141414" stroke-width="1.00" stroke-linecap="round" filter="url(#bl2)"/>
<path d="M26.56 31.50 L32.06 22.50" fill="none" stroke="#141414" stroke-width="1.00" stroke-linecap="round" filter="url(#bl2)"/>
<path d="M27.62 31.50 L33.12 22.50" fill="none" stroke="#141414" stroke-width="1.00" stroke-linecap="round" filter="url(#bl2)"/>
<path d="M28.68 31.50 L34.18 22.50" fill="none" stroke="#141414" stroke-width="1.00" stroke-linecap="round" filter="url(#bl2)"/>
<path d="M29.74 31.50 L35.24 22.50" fill="none" stroke="#141414" stroke-width="1.00" stroke-linecap="round" filter="url(#bl2)"/>
<path d="M30.80 31.50 L36.30 22.50" fill="none" stroke="#141414" stroke-width="1.00" stroke-linecap="round" filter="url(#bl2)"/>
<path d="M36.50 28.50 L44.00 23.00" fill="none" stroke="#141414" stroke-width="2.00" stroke-linecap="round" filter="url(#bl2)"/>
<path d="M40.00 29.00 L48.00 24.50" fill="none" stroke="#141414" stroke-width="2.00" stroke-linecap="round" filter="url(#bl2)"/>
<path d="M40.00 29.50 L56.00 26.00" fill="none" stroke="#141414" stroke-width="2.00" stroke-linecap="round" filter="url(#bl2)"/>
<path d="M48.00 25.00 L57.00 23.50" fill="none" stroke="#141414" stroke-width="2.00" stroke-linecap="round" filter="url(#bl2)"/>
<path d="M49.00 25.30 L58.70 24.30" fill="none" stroke="#141414" stroke-width="2.00" stroke-linecap="round" filter="url(#bl2)"/>
<path d="M58.70 22.30 L69.00 23.30" fill="none" stroke="#141414" stroke-width="2.00" stroke-linecap="round" filter="url(#bl2)"/>
<path d="M64.37 39.87 L73.02 25.28" fill="none" stroke="#141414" stroke-width="1.10" stroke-linecap="round" filter="url(#bl2)"/>
<path d="M66.18 38.68 L74.13 25.26" fill="none" stroke="#141414" stroke-width="1.10" stroke-linecap="round" filter="url(#bl2)"/>
<path d="M66.00 40.84 L74.65 26.25" fill="none" stroke="#141414" stroke-width="1.10" stroke-linecap="round" filter="url(#bl2)"/>
<path d="M67.82 39.64 L75.77 26.23" fill="none" stroke="#141414" stroke-width="1.10" stroke-linecap="round" filter="url(#bl2)"/>
<path d="M67.64 41.81 L76.28 27.22" fill="none" stroke="#141414" stroke-width="1.10" stroke-linecap="round" filter="url(#bl2)"/>
<path d="M72.00 27.00 L82.20 13.60" fill="none" stroke="#141414" stroke-width="2.00" stroke-linecap="round" filter="url(#bl2)"/>
<path d="M2.40 55.40 L9.60 45.80" fill="none" stroke="#141414" stroke-width="2.00" stroke-linecap="round" filter="url(#bl2)"/>
<path d="M81.10 54.60 L88.30 48.20" fill="none" stroke="#141414" stroke-width="2.00" stroke-linecap="round" filter="url(#bl2)"/>
<path d="M19.30 66.70 L27.00 72.00" fill="none" stroke="#141414" stroke-width="2.00" stroke-linecap="round" filter="url(#bl2)"/>
<path d="M61.00 75.50 L66.20 68.70" fill="none" stroke="#141414" stroke-width="2.00" stroke-linecap="round" filter="url(#bl2)"/>
<path d="M6.70 86.70 L18.50 79.50" fill="none" stroke="#141414" stroke-width="2.00" stroke-linecap="round" filter="url(#bl2)"/>
<path d="M45.80 85.90 L59.40 87.50" fill="none" stroke="#141414" stroke-width="2.00" stroke-linecap="round" filter="url(#bl2)"/>
<rect x="77.3" y="79.6" width="9" height="1.6" fill="#fff"/>
<text x="90.7" y="89.3" font-size="7.2" font-weight="bold" text-anchor="end" fill="#fff">5 µm</text>
</svg>
<svg x="496.6" y="391" width="92.3" height="92.2" overflow="hidden">
<rect width="92.3" height="92.2" fill="#000"/>
<polygon points="25.5,31.5 31.0,22.5 36.3,22.5 30.8,31.5" fill="#f4f4f4" fill-opacity="0.45" filter="url(#bl2)"/>
<path d="M25.50 31.50 L31.00 22.50" fill="none" stroke="#f4f4f4" stroke-width="1.05" stroke-linecap="round" filter="url(#bl2)"/>
<path d="M26.56 31.50 L32.06 22.50" fill="none" stroke="#f4f4f4" stroke-width="1.05" stroke-linecap="round" filter="url(#bl2)"/>
<path d="M27.62 31.50 L33.12 22.50" fill="none" stroke="#f4f4f4" stroke-width="1.05" stroke-linecap="round" filter="url(#bl2)"/>
<path d="M28.68 31.50 L34.18 22.50" fill="none" stroke="#f4f4f4" stroke-width="1.05" stroke-linecap="round" filter="url(#bl2)"/>
<path d="M29.74 31.50 L35.24 22.50" fill="none" stroke="#f4f4f4" stroke-width="1.05" stroke-linecap="round" filter="url(#bl2)"/>
<path d="M30.80 31.50 L36.30 22.50" fill="none" stroke="#f4f4f4" stroke-width="1.05" stroke-linecap="round" filter="url(#bl2)"/>
<path d="M36.50 28.50 L44.00 23.00" fill="none" stroke="#f4f4f4" stroke-width="2.10" stroke-linecap="round" filter="url(#bl2)"/>
<path d="M40.00 29.00 L48.00 24.50" fill="none" stroke="#f4f4f4" stroke-width="2.10" stroke-linecap="round" filter="url(#bl2)"/>
<path d="M40.00 29.50 L56.00 26.00" fill="none" stroke="#f4f4f4" stroke-width="2.10" stroke-linecap="round" filter="url(#bl2)"/>
<path d="M48.00 25.00 L57.00 23.50" fill="none" stroke="#f4f4f4" stroke-width="2.10" stroke-linecap="round" filter="url(#bl2)"/>
<path d="M49.00 25.30 L58.70 24.30" fill="none" stroke="#f4f4f4" stroke-width="2.10" stroke-linecap="round" filter="url(#bl2)"/>
<path d="M58.70 22.30 L69.00 23.30" fill="none" stroke="#f4f4f4" stroke-width="2.10" stroke-linecap="round" filter="url(#bl2)"/>
<path d="M64.37 39.87 L73.02 25.28" fill="none" stroke="#f4f4f4" stroke-width="1.16" stroke-linecap="round" filter="url(#bl2)"/>
<path d="M66.18 38.68 L74.13 25.26" fill="none" stroke="#f4f4f4" stroke-width="1.16" stroke-linecap="round" filter="url(#bl2)"/>
<path d="M66.00 40.84 L74.65 26.25" fill="none" stroke="#f4f4f4" stroke-width="1.16" stroke-linecap="round" filter="url(#bl2)"/>
<path d="M67.82 39.64 L75.77 26.23" fill="none" stroke="#f4f4f4" stroke-width="1.16" stroke-linecap="round" filter="url(#bl2)"/>
<path d="M67.64 41.81 L76.28 27.22" fill="none" stroke="#f4f4f4" stroke-width="1.16" stroke-linecap="round" filter="url(#bl2)"/>
<path d="M72.00 27.00 L82.20 13.60" fill="none" stroke="#f4f4f4" stroke-width="2.10" stroke-linecap="round" filter="url(#bl2)"/>
<path d="M2.40 55.40 L9.60 45.80" fill="none" stroke="#f4f4f4" stroke-width="2.10" stroke-linecap="round" filter="url(#bl2)"/>
<path d="M81.10 54.60 L88.30 48.20" fill="none" stroke="#f4f4f4" stroke-width="2.10" stroke-linecap="round" filter="url(#bl2)"/>
<path d="M19.30 66.70 L27.00 72.00" fill="none" stroke="#f4f4f4" stroke-width="2.10" stroke-linecap="round" filter="url(#bl2)"/>
<path d="M61.00 75.50 L66.20 68.70" fill="none" stroke="#f4f4f4" stroke-width="2.10" stroke-linecap="round" filter="url(#bl2)"/>
<path d="M6.70 86.70 L18.50 79.50" fill="none" stroke="#f4f4f4" stroke-width="2.10" stroke-linecap="round" filter="url(#bl2)"/>
<path d="M45.80 85.90 L59.40 87.50" fill="none" stroke="#f4f4f4" stroke-width="2.10" stroke-linecap="round" filter="url(#bl2)"/>
<rect x="77.3" y="79.6" width="9" height="1.6" fill="#fff"/>
<text x="90.7" y="89.3" font-size="7.2" font-weight="bold" text-anchor="end" fill="#fff">5 µm</text>
</svg>
<svg x="496.6" y="486" width="92.3" height="92" overflow="hidden">
<rect width="92.3" height="92" fill="url(#pg5)"/>
<path d="M25.50 31.50 L31.00 22.50" fill="none" stroke="#f0f0f0" stroke-opacity="0.6" stroke-width="4.4" stroke-linecap="round" filter="url(#bl)"/>
<path d="M26.56 31.50 L32.06 22.50" fill="none" stroke="#f0f0f0" stroke-opacity="0.6" stroke-width="4.4" stroke-linecap="round" filter="url(#bl)"/>
<path d="M27.62 31.50 L33.12 22.50" fill="none" stroke="#f0f0f0" stroke-opacity="0.6" stroke-width="4.4" stroke-linecap="round" filter="url(#bl)"/>
<path d="M28.68 31.50 L34.18 22.50" fill="none" stroke="#f0f0f0" stroke-opacity="0.6" stroke-width="4.4" stroke-linecap="round" filter="url(#bl)"/>
<path d="M29.74 31.50 L35.24 22.50" fill="none" stroke="#f0f0f0" stroke-opacity="0.6" stroke-width="4.4" stroke-linecap="round" filter="url(#bl)"/>
<path d="M30.80 31.50 L36.30 22.50" fill="none" stroke="#f0f0f0" stroke-opacity="0.6" stroke-width="4.4" stroke-linecap="round" filter="url(#bl)"/>
<path d="M36.50 28.50 L44.00 23.00" fill="none" stroke="#f0f0f0" stroke-opacity="0.6" stroke-width="4.4" stroke-linecap="round" filter="url(#bl)"/>
<path d="M40.00 29.00 L48.00 24.50" fill="none" stroke="#f0f0f0" stroke-opacity="0.6" stroke-width="4.4" stroke-linecap="round" filter="url(#bl)"/>
<path d="M40.00 29.50 L56.00 26.00" fill="none" stroke="#f0f0f0" stroke-opacity="0.6" stroke-width="4.4" stroke-linecap="round" filter="url(#bl)"/>
<path d="M48.00 25.00 L57.00 23.50" fill="none" stroke="#f0f0f0" stroke-opacity="0.6" stroke-width="4.4" stroke-linecap="round" filter="url(#bl)"/>
<path d="M49.00 25.30 L58.70 24.30" fill="none" stroke="#f0f0f0" stroke-opacity="0.6" stroke-width="4.4" stroke-linecap="round" filter="url(#bl)"/>
<path d="M58.70 22.30 L69.00 23.30" fill="none" stroke="#f0f0f0" stroke-opacity="0.6" stroke-width="4.4" stroke-linecap="round" filter="url(#bl)"/>
<path d="M64.37 39.87 L73.02 25.28" fill="none" stroke="#f0f0f0" stroke-opacity="0.6" stroke-width="4.4" stroke-linecap="round" filter="url(#bl)"/>
<path d="M66.18 38.68 L74.13 25.26" fill="none" stroke="#f0f0f0" stroke-opacity="0.6" stroke-width="4.4" stroke-linecap="round" filter="url(#bl)"/>
<path d="M66.00 40.84 L74.65 26.25" fill="none" stroke="#f0f0f0" stroke-opacity="0.6" stroke-width="4.4" stroke-linecap="round" filter="url(#bl)"/>
<path d="M67.82 39.64 L75.77 26.23" fill="none" stroke="#f0f0f0" stroke-opacity="0.6" stroke-width="4.4" stroke-linecap="round" filter="url(#bl)"/>
<path d="M67.64 41.81 L76.28 27.22" fill="none" stroke="#f0f0f0" stroke-opacity="0.6" stroke-width="4.4" stroke-linecap="round" filter="url(#bl)"/>
<path d="M72.00 27.00 L82.20 13.60" fill="none" stroke="#f0f0f0" stroke-opacity="0.6" stroke-width="4.4" stroke-linecap="round" filter="url(#bl)"/>
<path d="M2.40 55.40 L9.60 45.80" fill="none" stroke="#f0f0f0" stroke-opacity="0.6" stroke-width="4.4" stroke-linecap="round" filter="url(#bl)"/>
<path d="M81.10 54.60 L88.30 48.20" fill="none" stroke="#f0f0f0" stroke-opacity="0.6" stroke-width="4.4" stroke-linecap="round" filter="url(#bl)"/>
<path d="M19.30 66.70 L27.00 72.00" fill="none" stroke="#f0f0f0" stroke-opacity="0.6" stroke-width="4.4" stroke-linecap="round" filter="url(#bl)"/>
<path d="M61.00 75.50 L66.20 68.70" fill="none" stroke="#f0f0f0" stroke-opacity="0.6" stroke-width="4.4" stroke-linecap="round" filter="url(#bl)"/>
<path d="M6.70 86.70 L18.50 79.50" fill="none" stroke="#f0f0f0" stroke-opacity="0.6" stroke-width="4.4" stroke-linecap="round" filter="url(#bl)"/>
<path d="M45.80 85.90 L59.40 87.50" fill="none" stroke="#f0f0f0" stroke-opacity="0.6" stroke-width="4.4" stroke-linecap="round" filter="url(#bl)"/>
<polygon points="25.5,31.5 31.0,22.5 36.3,22.5 30.8,31.5" fill="#84508c" stroke="#84508c" stroke-width="1" filter="url(#bl2)"/>
<path d="M66.5 40 L74.8 26" stroke="#84508c" stroke-width="4.80" stroke-linecap="round" filter="url(#bl2)"/>
<path d="M25.50 31.50 L31.00 22.50" fill="none" stroke="#141414" stroke-width="1.10" stroke-linecap="round" filter="url(#bl2)"/>
<path d="M26.56 31.50 L32.06 22.50" fill="none" stroke="#141414" stroke-width="1.10" stroke-linecap="round" filter="url(#bl2)"/>
<path d="M27.62 31.50 L33.12 22.50" fill="none" stroke="#141414" stroke-width="1.10" stroke-linecap="round" filter="url(#bl2)"/>
<path d="M28.68 31.50 L34.18 22.50" fill="none" stroke="#141414" stroke-width="1.10" stroke-linecap="round" filter="url(#bl2)"/>
<path d="M29.74 31.50 L35.24 22.50" fill="none" stroke="#141414" stroke-width="1.10" stroke-linecap="round" filter="url(#bl2)"/>
<path d="M30.80 31.50 L36.30 22.50" fill="none" stroke="#141414" stroke-width="1.10" stroke-linecap="round" filter="url(#bl2)"/>
<path d="M36.50 28.50 L44.00 23.00" fill="none" stroke="#141414" stroke-width="2.20" stroke-linecap="round" filter="url(#bl2)"/>
<path d="M40.00 29.00 L48.00 24.50" fill="none" stroke="#141414" stroke-width="2.20" stroke-linecap="round" filter="url(#bl2)"/>
<path d="M40.00 29.50 L56.00 26.00" fill="none" stroke="#141414" stroke-width="2.20" stroke-linecap="round" filter="url(#bl2)"/>
<path d="M48.00 25.00 L57.00 23.50" fill="none" stroke="#141414" stroke-width="2.20" stroke-linecap="round" filter="url(#bl2)"/>
<path d="M49.00 25.30 L58.70 24.30" fill="none" stroke="#141414" stroke-width="2.20" stroke-linecap="round" filter="url(#bl2)"/>
<path d="M58.70 22.30 L69.00 23.30" fill="none" stroke="#141414" stroke-width="2.20" stroke-linecap="round" filter="url(#bl2)"/>
<path d="M64.37 39.87 L73.02 25.28" fill="none" stroke="#141414" stroke-width="1.21" stroke-linecap="round" filter="url(#bl2)"/>
<path d="M66.18 38.68 L74.13 25.26" fill="none" stroke="#141414" stroke-width="1.21" stroke-linecap="round" filter="url(#bl2)"/>
<path d="M66.00 40.84 L74.65 26.25" fill="none" stroke="#141414" stroke-width="1.21" stroke-linecap="round" filter="url(#bl2)"/>
<path d="M67.82 39.64 L75.77 26.23" fill="none" stroke="#141414" stroke-width="1.21" stroke-linecap="round" filter="url(#bl2)"/>
<path d="M67.64 41.81 L76.28 27.22" fill="none" stroke="#141414" stroke-width="1.21" stroke-linecap="round" filter="url(#bl2)"/>
<path d="M72.00 27.00 L82.20 13.60" fill="none" stroke="#141414" stroke-width="2.20" stroke-linecap="round" filter="url(#bl2)"/>
<path d="M2.40 55.40 L9.60 45.80" fill="none" stroke="#141414" stroke-width="2.20" stroke-linecap="round" filter="url(#bl2)"/>
<path d="M81.10 54.60 L88.30 48.20" fill="none" stroke="#141414" stroke-width="2.20" stroke-linecap="round" filter="url(#bl2)"/>
<path d="M19.30 66.70 L27.00 72.00" fill="none" stroke="#141414" stroke-width="2.20" stroke-linecap="round" filter="url(#bl2)"/>
<path d="M61.00 75.50 L66.20 68.70" fill="none" stroke="#141414" stroke-width="2.20" stroke-linecap="round" filter="url(#bl2)"/>
<path d="M6.70 86.70 L18.50 79.50" fill="none" stroke="#141414" stroke-width="2.20" stroke-linecap="round" filter="url(#bl2)"/>
<path d="M45.80 85.90 L59.40 87.50" fill="none" stroke="#141414" stroke-width="2.20" stroke-linecap="round" filter="url(#bl2)"/>
<polygon points="25.5,31.5 31.0,22.5 36.3,22.5 30.8,31.5" fill="#f030f0" fill-opacity="0.25" filter="url(#bl2)"/>
<path d="M25.50 31.50 L31.00 22.50" fill="none" stroke="#f030f0" stroke-width="1.00" stroke-linecap="round" filter="url(#bl2)"/>
<path d="M26.56 31.50 L32.06 22.50" fill="none" stroke="#f030f0" stroke-width="1.00" stroke-linecap="round" filter="url(#bl2)"/>
<path d="M27.62 31.50 L33.12 22.50" fill="none" stroke="#f030f0" stroke-width="1.00" stroke-linecap="round" filter="url(#bl2)"/>
<path d="M28.68 31.50 L34.18 22.50" fill="none" stroke="#f030f0" stroke-width="1.00" stroke-linecap="round" filter="url(#bl2)"/>
<path d="M29.74 31.50 L35.24 22.50" fill="none" stroke="#f030f0" stroke-width="1.00" stroke-linecap="round" filter="url(#bl2)"/>
<path d="M30.80 31.50 L36.30 22.50" fill="none" stroke="#f030f0" stroke-width="1.00" stroke-linecap="round" filter="url(#bl2)"/>
<path d="M36.50 28.50 L44.00 23.00" fill="none" stroke="#f030f0" stroke-width="2.00" stroke-linecap="round" filter="url(#bl2)"/>
<path d="M40.00 29.00 L48.00 24.50" fill="none" stroke="#f030f0" stroke-width="2.00" stroke-linecap="round" filter="url(#bl2)"/>
<path d="M40.00 29.50 L56.00 26.00" fill="none" stroke="#f030f0" stroke-width="2.00" stroke-linecap="round" filter="url(#bl2)"/>
<path d="M48.00 25.00 L57.00 23.50" fill="none" stroke="#f030f0" stroke-width="2.00" stroke-linecap="round" filter="url(#bl2)"/>
<path d="M49.00 25.30 L58.70 24.30" fill="none" stroke="#f030f0" stroke-width="2.00" stroke-linecap="round" filter="url(#bl2)"/>
<path d="M58.70 22.30 L69.00 23.30" fill="none" stroke="#f030f0" stroke-width="2.00" stroke-linecap="round" filter="url(#bl2)"/>
<path d="M64.37 39.87 L73.02 25.28" fill="none" stroke="#f030f0" stroke-width="1.10" stroke-linecap="round" filter="url(#bl2)"/>
<path d="M66.18 38.68 L74.13 25.26" fill="none" stroke="#f030f0" stroke-width="1.10" stroke-linecap="round" filter="url(#bl2)"/>
<path d="M66.00 40.84 L74.65 26.25" fill="none" stroke="#f030f0" stroke-width="1.10" stroke-linecap="round" filter="url(#bl2)"/>
<path d="M67.82 39.64 L75.77 26.23" fill="none" stroke="#f030f0" stroke-width="1.10" stroke-linecap="round" filter="url(#bl2)"/>
<path d="M67.64 41.81 L76.28 27.22" fill="none" stroke="#f030f0" stroke-width="1.10" stroke-linecap="round" filter="url(#bl2)"/>
<path d="M72.00 27.00 L82.20 13.60" fill="none" stroke="#f030f0" stroke-width="2.00" stroke-linecap="round" filter="url(#bl2)"/>
<path d="M2.40 55.40 L9.60 45.80" fill="none" stroke="#f030f0" stroke-width="2.00" stroke-linecap="round" filter="url(#bl2)"/>
<path d="M81.10 54.60 L88.30 48.20" fill="none" stroke="#f030f0" stroke-width="2.00" stroke-linecap="round" filter="url(#bl2)"/>
<path d="M19.30 66.70 L27.00 72.00" fill="none" stroke="#f030f0" stroke-width="2.00" stroke-linecap="round" filter="url(#bl2)"/>
<path d="M61.00 75.50 L66.20 68.70" fill="none" stroke="#f030f0" stroke-width="2.00" stroke-linecap="round" filter="url(#bl2)"/>
<path d="M6.70 86.70 L18.50 79.50" fill="none" stroke="#f030f0" stroke-width="2.00" stroke-linecap="round" filter="url(#bl2)"/>
<path d="M45.80 85.90 L59.40 87.50" fill="none" stroke="#f030f0" stroke-width="2.00" stroke-linecap="round" filter="url(#bl2)"/>
<rect x="77.3" y="79.6" width="9" height="1.6" fill="#fff"/>
<text x="90.7" y="89.3" font-size="7.2" font-weight="bold" text-anchor="end" fill="#fff">5 µm</text>
</svg>
<svg x="592" y="296" width="91.7" height="92.7" overflow="hidden">
<rect width="91.7" height="92.7" fill="url(#pg6)"/>
<path d="M9.30 8.80 L15.30 18.00" fill="none" stroke="#f0f0f0" stroke-opacity="0.6" stroke-width="4.4" stroke-linecap="round" filter="url(#bl)"/>
<path d="M51.40 16.40 L57.80 22.20" fill="none" stroke="#f0f0f0" stroke-opacity="0.6" stroke-width="4.4" stroke-linecap="round" filter="url(#bl)"/>
<path d="M66.70 11.79 L74.20 16.06" fill="none" stroke="#f0f0f0" stroke-opacity="0.6" stroke-width="4.4" stroke-linecap="round" filter="url(#bl)"/>
<path d="M66.70 13.81 L73.60 17.74" fill="none" stroke="#f0f0f0" stroke-opacity="0.6" stroke-width="4.4" stroke-linecap="round" filter="url(#bl)"/>
<path d="M10.90 36.10 L20.10 45.80" fill="none" stroke="#f0f0f0" stroke-opacity="0.6" stroke-width="4.4" stroke-linecap="round" filter="url(#bl)"/>
<path d="M29.70 38.50 L27.00 45.80" fill="none" stroke="#f0f0f0" stroke-opacity="0.6" stroke-width="4.4" stroke-linecap="round" filter="url(#bl)"/>
<path d="M43.70 38.20 L53.00 34.00" fill="none" stroke="#f0f0f0" stroke-opacity="0.6" stroke-width="4.4" stroke-linecap="round" filter="url(#bl)"/>
<path d="M45.00 50.60 L57.00 55.40" fill="none" stroke="#f0f0f0" stroke-opacity="0.6" stroke-width="4.4" stroke-linecap="round" filter="url(#bl)"/>
<path d="M83.50 48.20 L85.10 56.20" fill="none" stroke="#f0f0f0" stroke-opacity="0.6" stroke-width="4.4" stroke-linecap="round" filter="url(#bl)"/>
<path d="M38.90 59.10 L47.40 60.20" fill="none" stroke="#f0f0f0" stroke-opacity="0.6" stroke-width="4.4" stroke-linecap="round" filter="url(#bl)"/>
<path d="M4.50 69.10 L14.50 65.90" fill="none" stroke="#f0f0f0" stroke-opacity="0.6" stroke-width="4.4" stroke-linecap="round" filter="url(#bl)"/>
<path d="M38.50 65.90 L48.20 75.20" fill="none" stroke="#f0f0f0" stroke-opacity="0.6" stroke-width="4.4" stroke-linecap="round" filter="url(#bl)"/>
<path d="M71.50 61.80 L77.90 74.70" fill="none" stroke="#f0f0f0" stroke-opacity="0.6" stroke-width="4.4" stroke-linecap="round" filter="url(#bl)"/>
<path d="M68.30 68.70 L75.50 74.70" fill="none" stroke="#f0f0f0" stroke-opacity="0.6" stroke-width="4.4" stroke-linecap="round" filter="url(#bl)"/>
<path d="M10.40 75.20 L17.30 77.90" fill="none" stroke="#f0f0f0" stroke-opacity="0.6" stroke-width="4.4" stroke-linecap="round" filter="url(#bl)"/>
<path d="M28.10 81.60 L39.40 74.70" fill="none" stroke="#f0f0f0" stroke-opacity="0.6" stroke-width="4.4" stroke-linecap="round" filter="url(#bl)"/>
<path d="M9.30 8.80 L15.30 18.00" fill="none" stroke="#141414" stroke-width="2.00" stroke-linecap="round" filter="url(#bl2)"/>
<path d="M51.40 16.40 L57.80 22.20" fill="none" stroke="#141414" stroke-width="2.00" stroke-linecap="round" filter="url(#bl2)"/>
<path d="M66.70 11.79 L74.20 16.06" fill="none" stroke="#141414" stroke-width="1.44" stroke-linecap="round" filter="url(#bl2)"/>
<path d="M66.70 13.81 L73.60 17.74" fill="none" stroke="#141414" stroke-width="1.44" stroke-linecap="round" filter="url(#bl2)"/>
<path d="M10.90 36.10 L20.10 45.80" fill="none" stroke="#141414" stroke-width="2.00" stroke-linecap="round" filter="url(#bl2)"/>
<path d="M29.70 38.50 L27.00 45.80" fill="none" stroke="#141414" stroke-width="2.00" stroke-linecap="round" filter="url(#bl2)"/>
<path d="M43.70 38.20 L53.00 34.00" fill="none" stroke="#141414" stroke-width="2.00" stroke-linecap="round" filter="url(#bl2)"/>
<path d="M45.00 50.60 L57.00 55.40" fill="none" stroke="#141414" stroke-width="2.00" stroke-linecap="round" filter="url(#bl2)"/>
<path d="M83.50 48.20 L85.10 56.20" fill="none" stroke="#141414" stroke-width="2.00" stroke-linecap="round" filter="url(#bl2)"/>
<path d="M38.90 59.10 L47.40 60.20" fill="none" stroke="#141414" stroke-width="2.00" stroke-linecap="round" filter="url(#bl2)"/>
<path d="M4.50 69.10 L14.50 65.90" fill="none" stroke="#141414" stroke-width="2.00" stroke-linecap="round" filter="url(#bl2)"/>
<path d="M38.50 65.90 L48.20 75.20" fill="none" stroke="#141414" stroke-width="2.00" stroke-linecap="round" filter="url(#bl2)"/>
<path d="M71.50 61.80 L77.90 74.70" fill="none" stroke="#141414" stroke-width="2.00" stroke-linecap="round" filter="url(#bl2)"/>
<path d="M68.30 68.70 L75.50 74.70" fill="none" stroke="#141414" stroke-width="2.00" stroke-linecap="round" filter="url(#bl2)"/>
<path d="M10.40 75.20 L17.30 77.90" fill="none" stroke="#141414" stroke-width="2.00" stroke-linecap="round" filter="url(#bl2)"/>
<path d="M28.10 81.60 L39.40 74.70" fill="none" stroke="#141414" stroke-width="2.00" stroke-linecap="round" filter="url(#bl2)"/>
<rect x="76.7" y="79.6" width="9" height="1.6" fill="#fff"/>
<text x="90.10000000000001" y="89.3" font-size="7.2" font-weight="bold" text-anchor="end" fill="#fff">5 µm</text>
</svg>
<svg x="592" y="391" width="91.7" height="92.2" overflow="hidden">
<rect width="91.7" height="92.2" fill="#000"/>
<path d="M9.30 8.80 L15.30 18.00" fill="none" stroke="#f2f2f2" stroke-width="2.10" stroke-linecap="round" filter="url(#bl2)"/>
<path d="M51.40 16.40 L57.80 22.20" fill="none" stroke="#f2f2f2" stroke-width="2.10" stroke-linecap="round" filter="url(#bl2)"/>
<path d="M66.70 11.79 L74.20 16.06" fill="none" stroke="#f2f2f2" stroke-width="1.51" stroke-linecap="round" filter="url(#bl2)"/>
<path d="M66.70 13.81 L73.60 17.74" fill="none" stroke="#f2f2f2" stroke-width="1.51" stroke-linecap="round" filter="url(#bl2)"/>
<path d="M10.90 36.10 L20.10 45.80" fill="none" stroke="#f2f2f2" stroke-width="2.10" stroke-linecap="round" filter="url(#bl2)"/>
<path d="M29.70 38.50 L27.00 45.80" fill="none" stroke="#f2f2f2" stroke-width="2.10" stroke-linecap="round" filter="url(#bl2)"/>
<path d="M43.70 38.20 L53.00 34.00" fill="none" stroke="#f2f2f2" stroke-width="2.10" stroke-linecap="round" filter="url(#bl2)"/>
<path d="M45.00 50.60 L57.00 55.40" fill="none" stroke="#f2f2f2" stroke-width="2.10" stroke-linecap="round" filter="url(#bl2)"/>
<path d="M83.50 48.20 L85.10 56.20" fill="none" stroke="#f2f2f2" stroke-width="2.10" stroke-linecap="round" filter="url(#bl2)"/>
<path d="M38.90 59.10 L47.40 60.20" fill="none" stroke="#f2f2f2" stroke-width="2.10" stroke-linecap="round" filter="url(#bl2)"/>
<path d="M4.50 69.10 L14.50 65.90" fill="none" stroke="#f2f2f2" stroke-width="2.10" stroke-linecap="round" filter="url(#bl2)"/>
<path d="M38.50 65.90 L48.20 75.20" fill="none" stroke="#f2f2f2" stroke-width="2.10" stroke-linecap="round" filter="url(#bl2)"/>
<path d="M71.50 61.80 L77.90 74.70" fill="none" stroke="#f2f2f2" stroke-width="2.10" stroke-linecap="round" filter="url(#bl2)"/>
<path d="M68.30 68.70 L75.50 74.70" fill="none" stroke="#f2f2f2" stroke-width="2.10" stroke-linecap="round" filter="url(#bl2)"/>
<path d="M10.40 75.20 L17.30 77.90" fill="none" stroke="#f2f2f2" stroke-width="2.10" stroke-linecap="round" filter="url(#bl2)"/>
<path d="M28.10 81.60 L39.40 74.70" fill="none" stroke="#f2f2f2" stroke-width="2.10" stroke-linecap="round" filter="url(#bl2)"/>
<rect x="76.7" y="79.6" width="9" height="1.6" fill="#fff"/>
<text x="90.10000000000001" y="89.3" font-size="7.2" font-weight="bold" text-anchor="end" fill="#fff">5 µm</text>
<text x="88.5" y="12.3" font-size="8.7" text-anchor="end" fill="#dede2a">ADJUSTED</text>
</svg>
<svg x="592" y="486" width="91.7" height="92" overflow="hidden">
<rect width="91.7" height="92" fill="url(#pg6)"/>
<path d="M9.30 8.80 L15.30 18.00" fill="none" stroke="#f0f0f0" stroke-opacity="0.6" stroke-width="4.4" stroke-linecap="round" filter="url(#bl)"/>
<path d="M51.40 16.40 L57.80 22.20" fill="none" stroke="#f0f0f0" stroke-opacity="0.6" stroke-width="4.4" stroke-linecap="round" filter="url(#bl)"/>
<path d="M66.70 11.79 L74.20 16.06" fill="none" stroke="#f0f0f0" stroke-opacity="0.6" stroke-width="4.4" stroke-linecap="round" filter="url(#bl)"/>
<path d="M66.70 13.81 L73.60 17.74" fill="none" stroke="#f0f0f0" stroke-opacity="0.6" stroke-width="4.4" stroke-linecap="round" filter="url(#bl)"/>
<path d="M10.90 36.10 L20.10 45.80" fill="none" stroke="#f0f0f0" stroke-opacity="0.6" stroke-width="4.4" stroke-linecap="round" filter="url(#bl)"/>
<path d="M29.70 38.50 L27.00 45.80" fill="none" stroke="#f0f0f0" stroke-opacity="0.6" stroke-width="4.4" stroke-linecap="round" filter="url(#bl)"/>
<path d="M43.70 38.20 L53.00 34.00" fill="none" stroke="#f0f0f0" stroke-opacity="0.6" stroke-width="4.4" stroke-linecap="round" filter="url(#bl)"/>
<path d="M45.00 50.60 L57.00 55.40" fill="none" stroke="#f0f0f0" stroke-opacity="0.6" stroke-width="4.4" stroke-linecap="round" filter="url(#bl)"/>
<path d="M83.50 48.20 L85.10 56.20" fill="none" stroke="#f0f0f0" stroke-opacity="0.6" stroke-width="4.4" stroke-linecap="round" filter="url(#bl)"/>
<path d="M38.90 59.10 L47.40 60.20" fill="none" stroke="#f0f0f0" stroke-opacity="0.6" stroke-width="4.4" stroke-linecap="round" filter="url(#bl)"/>
<path d="M4.50 69.10 L14.50 65.90" fill="none" stroke="#f0f0f0" stroke-opacity="0.6" stroke-width="4.4" stroke-linecap="round" filter="url(#bl)"/>
<path d="M38.50 65.90 L48.20 75.20" fill="none" stroke="#f0f0f0" stroke-opacity="0.6" stroke-width="4.4" stroke-linecap="round" filter="url(#bl)"/>
<path d="M71.50 61.80 L77.90 74.70" fill="none" stroke="#f0f0f0" stroke-opacity="0.6" stroke-width="4.4" stroke-linecap="round" filter="url(#bl)"/>
<path d="M68.30 68.70 L75.50 74.70" fill="none" stroke="#f0f0f0" stroke-opacity="0.6" stroke-width="4.4" stroke-linecap="round" filter="url(#bl)"/>
<path d="M10.40 75.20 L17.30 77.90" fill="none" stroke="#f0f0f0" stroke-opacity="0.6" stroke-width="4.4" stroke-linecap="round" filter="url(#bl)"/>
<path d="M28.10 81.60 L39.40 74.70" fill="none" stroke="#f0f0f0" stroke-opacity="0.6" stroke-width="4.4" stroke-linecap="round" filter="url(#bl)"/>
<path d="M9.30 8.80 L15.30 18.00" fill="none" stroke="#141414" stroke-width="2.20" stroke-linecap="round" filter="url(#bl2)"/>
<path d="M51.40 16.40 L57.80 22.20" fill="none" stroke="#141414" stroke-width="2.20" stroke-linecap="round" filter="url(#bl2)"/>
<path d="M66.70 11.79 L74.20 16.06" fill="none" stroke="#141414" stroke-width="1.58" stroke-linecap="round" filter="url(#bl2)"/>
<path d="M66.70 13.81 L73.60 17.74" fill="none" stroke="#141414" stroke-width="1.58" stroke-linecap="round" filter="url(#bl2)"/>
<path d="M10.90 36.10 L20.10 45.80" fill="none" stroke="#141414" stroke-width="2.20" stroke-linecap="round" filter="url(#bl2)"/>
<path d="M29.70 38.50 L27.00 45.80" fill="none" stroke="#141414" stroke-width="2.20" stroke-linecap="round" filter="url(#bl2)"/>
<path d="M43.70 38.20 L53.00 34.00" fill="none" stroke="#141414" stroke-width="2.20" stroke-linecap="round" filter="url(#bl2)"/>
<path d="M45.00 50.60 L57.00 55.40" fill="none" stroke="#141414" stroke-width="2.20" stroke-linecap="round" filter="url(#bl2)"/>
<path d="M83.50 48.20 L85.10 56.20" fill="none" stroke="#141414" stroke-width="2.20" stroke-linecap="round" filter="url(#bl2)"/>
<path d="M38.90 59.10 L47.40 60.20" fill="none" stroke="#141414" stroke-width="2.20" stroke-linecap="round" filter="url(#bl2)"/>
<path d="M4.50 69.10 L14.50 65.90" fill="none" stroke="#141414" stroke-width="2.20" stroke-linecap="round" filter="url(#bl2)"/>
<path d="M38.50 65.90 L48.20 75.20" fill="none" stroke="#141414" stroke-width="2.20" stroke-linecap="round" filter="url(#bl2)"/>
<path d="M71.50 61.80 L77.90 74.70" fill="none" stroke="#141414" stroke-width="2.20" stroke-linecap="round" filter="url(#bl2)"/>
<path d="M68.30 68.70 L75.50 74.70" fill="none" stroke="#141414" stroke-width="2.20" stroke-linecap="round" filter="url(#bl2)"/>
<path d="M10.40 75.20 L17.30 77.90" fill="none" stroke="#141414" stroke-width="2.20" stroke-linecap="round" filter="url(#bl2)"/>
<path d="M28.10 81.60 L39.40 74.70" fill="none" stroke="#141414" stroke-width="2.20" stroke-linecap="round" filter="url(#bl2)"/>
<path d="M9.30 8.80 L15.30 18.00" fill="none" stroke="#a03ab0" stroke-width="1.80" stroke-linecap="round" filter="url(#bl2)"/>
<path d="M51.40 16.40 L57.80 22.20" fill="none" stroke="#a03ab0" stroke-width="1.80" stroke-linecap="round" filter="url(#bl2)"/>
<path d="M66.70 11.79 L74.20 16.06" fill="none" stroke="#a03ab0" stroke-width="1.30" stroke-linecap="round" filter="url(#bl2)"/>
<path d="M66.70 13.81 L73.60 17.74" fill="none" stroke="#a03ab0" stroke-width="1.30" stroke-linecap="round" filter="url(#bl2)"/>
<path d="M10.90 36.10 L20.10 45.80" fill="none" stroke="#a03ab0" stroke-width="1.80" stroke-linecap="round" filter="url(#bl2)"/>
<path d="M29.70 38.50 L27.00 45.80" fill="none" stroke="#a03ab0" stroke-width="1.80" stroke-linecap="round" filter="url(#bl2)"/>
<path d="M43.70 38.20 L53.00 34.00" fill="none" stroke="#a03ab0" stroke-width="1.80" stroke-linecap="round" filter="url(#bl2)"/>
<path d="M45.00 50.60 L57.00 55.40" fill="none" stroke="#a03ab0" stroke-width="1.80" stroke-linecap="round" filter="url(#bl2)"/>
<path d="M83.50 48.20 L85.10 56.20" fill="none" stroke="#a03ab0" stroke-width="1.80" stroke-linecap="round" filter="url(#bl2)"/>
<path d="M38.90 59.10 L47.40 60.20" fill="none" stroke="#a03ab0" stroke-width="1.80" stroke-linecap="round" filter="url(#bl2)"/>
<path d="M4.50 69.10 L14.50 65.90" fill="none" stroke="#a03ab0" stroke-width="1.80" stroke-linecap="round" filter="url(#bl2)"/>
<path d="M38.50 65.90 L48.20 75.20" fill="none" stroke="#a03ab0" stroke-width="1.80" stroke-linecap="round" filter="url(#bl2)"/>
<path d="M71.50 61.80 L77.90 74.70" fill="none" stroke="#a03ab0" stroke-width="1.80" stroke-linecap="round" filter="url(#bl2)"/>
<path d="M68.30 68.70 L75.50 74.70" fill="none" stroke="#a03ab0" stroke-width="1.80" stroke-linecap="round" filter="url(#bl2)"/>
<path d="M10.40 75.20 L17.30 77.90" fill="none" stroke="#a03ab0" stroke-width="1.80" stroke-linecap="round" filter="url(#bl2)"/>
<path d="M28.10 81.60 L39.40 74.70" fill="none" stroke="#a03ab0" stroke-width="1.80" stroke-linecap="round" filter="url(#bl2)"/>
<rect x="76.7" y="79.6" width="9" height="1.6" fill="#fff"/>
<text x="90.10000000000001" y="89.3" font-size="7.2" font-weight="bold" text-anchor="end" fill="#fff">5 µm</text>
<text x="88.5" y="10.6" font-size="8.7" text-anchor="end" fill="#e6e636">ADJUSTED</text>
</svg>
<text x="65.5" y="289.0" font-size="11.35" text-anchor="middle" fill="#1e1e1e">WT (unmarked)</text>
<text x="160.8" y="289.0" font-size="11.35" text-anchor="middle" fill="#1e1e1e">P<tspan font-size="6.4" font-style="italic" dy="3.4">cwp2</tspan><tspan font-style="italic" dy="-3.4">::LP-mSc</tspan></text>
<text x="256.5" y="289.0" font-size="11.35" text-anchor="middle" fill="#1e1e1e">P<tspan font-size="6.4" font-style="italic" dy="3.4">cwp2</tspan><tspan font-style="italic" dy="-3.4">::LP-mScl3</tspan></text>
<text x="351.9" y="289.0" font-size="11.35" text-anchor="middle" fill="#1e1e1e">P<tspan font-size="6.4" font-style="italic" dy="3.4">cwp2</tspan><tspan font-style="italic" dy="-3.4">::LP-mScl3*</tspan></text>
<text x="447.2" y="289.0" font-size="11.35" text-anchor="middle" fill="#1e1e1e">P<tspan font-size="6.4" font-style="italic" dy="3.4">gluD</tspan><tspan font-style="italic" dy="-3.4">::mScl3</tspan></text>
<text x="542.8" y="289.0" font-size="11.35" text-anchor="middle" fill="#1e1e1e">P<tspan font-size="6.4" font-style="italic" dy="3.4">slpA</tspan><tspan font-style="italic" dy="-3.4">::LP-mSc</tspan></text>
<text x="637.9" y="289.0" font-size="11.35" text-anchor="middle" fill="#1e1e1e">P<tspan font-size="6.4" font-style="italic" dy="3.4">slpA</tspan><tspan font-style="italic" dy="-3.4">::mScl3</tspan></text>
<text transform="translate(11.9 342.3) rotate(-90)" font-size="11" text-anchor="middle" fill="#1e1e1e">Phase</text>
<text transform="translate(11.9 437.1) rotate(-90)" font-size="11" text-anchor="middle" fill="#1e1e1e">mScarlet(I3)</text>
<text transform="translate(11.9 532) rotate(-90)" font-size="11" text-anchor="middle" fill="#1e1e1e">Merge</text>
<text x="4.6" y="12.6" font-size="16" text-anchor="start" font-weight="bold" font-style="normal" fill="#000" >a</text>
<text x="-0.3" y="278.3" font-size="16" text-anchor="start" font-weight="bold" font-style="normal" fill="#000" >b</text>
<text x="206.2" y="12.6" font-size="16" text-anchor="start" font-weight="bold" font-style="normal" fill="#000" >c</text>
<text x="415.2" y="12.6" font-size="16" text-anchor="start" font-weight="bold" font-style="normal" fill="#000" >d</text>
<text x="124.4" y="39.2" font-size="11.3" text-anchor="start" font-weight="normal" font-style="normal" fill="#1e1e1e" >WT (unmarked)</text>
<text x="105.6" y="60.6" font-size="11.8" text-anchor="end" font-weight="normal" font-style="normal" fill="#1e1e1e" ><tspan>P</tspan><tspan font-size="6.8" font-style="italic" font-weight="bold" fill="#3cbcee" dy="3.6">cwp2</tspan><tspan font-style="italic" dy="-3.6">::</tspan><tspan font-style="italic">LP-</tspan><tspan font-style="italic" fill="#ea2b2f">mSc</tspan></text>
<text x="114.60000000000001" y="51.0" font-size="9.2" fill="#3cbcee">P<tspan font-size="5.8" font-style="italic" font-weight="bold" dx="0.4" dy="3.7">cwp2</tspan></text>
<line x1="114.9" y1="58.0" x2="144.0" y2="58.0" stroke="#7c7c7c" stroke-width="1.15"/>
<path d="M137.3 58.0 V50.0 H142.5" fill="none" stroke="#111" stroke-width="0.9"/>
<path d="M141.9 48.1 L144.9 50.0 L141.9 51.9Z" fill="#111"/>
<path d="M155.1 52.9 H192.5 V48.1 L201.3 58.0 L192.5 67.9 V63.1 H155.1Z" fill="#b5222a" stroke="#3a1a1a" stroke-width="0.6"/>
<rect x="144.0" y="52.9" width="11.099999999999994" height="10.2" fill="#000"/>
<text x="149.55" y="60.5" font-size="6.6" text-anchor="middle" font-weight="bold" font-style="normal" fill="#fff" >LP</text>
<text x="174.6" y="61.6" font-size="9.6" text-anchor="middle" font-weight="normal" font-style="italic" fill="#fff" >mSc</text>
<text x="105.6" y="84.39999999999999" font-size="11.8" text-anchor="end" font-weight="normal" font-style="normal" fill="#1e1e1e" ><tspan>P</tspan><tspan font-size="6.8" font-style="italic" font-weight="bold" fill="#3cbcee" dy="3.6">cwp2</tspan><tspan font-style="italic" dy="-3.6">::</tspan><tspan font-style="italic">LP-</tspan><tspan font-style="italic" fill="#ea2b2f">mScl3</tspan></text>
<text x="114.60000000000001" y="74.8" font-size="9.2" fill="#3cbcee">P<tspan font-size="5.8" font-style="italic" font-weight="bold" dx="0.4" dy="3.7">cwp2</tspan></text>
<line x1="114.9" y1="81.8" x2="144.0" y2="81.8" stroke="#7c7c7c" stroke-width="1.15"/>
<path d="M137.3 81.8 V73.8 H142.5" fill="none" stroke="#111" stroke-width="0.9"/>
<path d="M141.9 71.89999999999999 L144.9 73.8 L141.9 75.7Z" fill="#111"/>
<path d="M155.1 76.7 H192.5 V71.89999999999999 L201.3 81.8 L192.5 91.7 V86.89999999999999 H155.1Z" fill="#ea2b2f" stroke="#3a1a1a" stroke-width="0.6"/>
<rect x="144.0" y="76.7" width="11.099999999999994" height="10.2" fill="#000"/>
<text x="149.55" y="84.3" font-size="6.6" text-anchor="middle" font-weight="bold" font-style="normal" fill="#fff" >LP</text>
<text x="174.6" y="85.39999999999999" font-size="9.6" text-anchor="middle" font-weight="normal" font-style="italic" fill="#fff" >mSc</text>
<text x="107.4" y="108.19999999999999" font-size="11.8" text-anchor="end" font-weight="normal" font-style="normal" fill="#1e1e1e" ><tspan>P</tspan><tspan font-size="6.8" font-style="italic" font-weight="bold" fill="#3cbcee" dy="3.6">cwp2</tspan><tspan font-style="italic" dy="-3.6">::</tspan><tspan font-style="italic">LP-</tspan><tspan font-style="italic" fill="#ea2b2f">mScl3</tspan><tspan font-size="11.5" font-weight="bold" fill="#ea2b2f" dy="-0.6" dx="0.4">*</tspan></text>
<text x="115.60000000000001" y="98.6" font-size="9.2" fill="#3cbcee">P<tspan font-size="5.8" font-style="italic" font-weight="bold" dx="0.4" dy="3.7">cwp2</tspan></text>
<line x1="115.9" y1="105.6" x2="145.0" y2="105.6" stroke="#7c7c7c" stroke-width="1.15"/>
<path d="M138.3 105.6 V97.6 H143.5" fill="none" stroke="#111" stroke-width="0.9"/>
<path d="M142.9 95.69999999999999 L145.9 97.6 L142.9 99.5Z" fill="#111"/>
<path d="M156.1 100.5 H193.5 V95.69999999999999 L202.3 105.6 L193.5 115.5 V110.69999999999999 H156.1Z" fill="#ea2b2f" stroke="#3a1a1a" stroke-width="0.6"/>
<rect x="145.0" y="100.5" width="11.099999999999994" height="10.2" fill="#000"/>
<text x="150.55" y="108.1" font-size="6.6" text-anchor="middle" font-weight="bold" font-style="normal" fill="#fff" >LP</text>
<text x="175.6" y="109.19999999999999" font-size="9.6" text-anchor="middle" font-weight="normal" font-style="italic" fill="#fff" >mSc</text>
<text x="105.6" y="132.0" font-size="11.8" text-anchor="end" font-weight="normal" font-style="normal" fill="#1e1e1e" ><tspan>P</tspan><tspan font-size="6.8" font-style="italic" font-weight="bold" fill="#e38a24" dy="3.6">gluD</tspan><tspan font-style="italic" dy="-3.6">::</tspan><tspan font-style="italic"></tspan><tspan font-style="italic" fill="#ea2b2f">mScl3</tspan></text>
<text x="127.2" y="122.4" font-size="9.2" fill="#e38a24">P<tspan font-size="5.8" font-style="italic" font-weight="bold" dx="0.4" dy="3.7">gluD</tspan></text>
<line x1="127.5" y1="129.4" x2="156.0" y2="129.4" stroke="#7c7c7c" stroke-width="1.15"/>
<path d="M150.0 129.4 V121.4 H155.2" fill="none" stroke="#111" stroke-width="0.9"/>
<path d="M154.6 119.5 L157.6 121.4 L154.6 123.30000000000001Z" fill="#111"/>
<path d="M156.0 124.30000000000001 H192.5 V119.5 L201.3 129.4 L192.5 139.3 V134.5 H156.0Z" fill="#ea2b2f" stroke="#3a1a1a" stroke-width="0.6"/>
<text x="174.6" y="133.0" font-size="9.6" text-anchor="middle" font-weight="normal" font-style="italic" fill="#fff" >mSc</text>
<text x="105.6" y="155.79999999999998" font-size="11.8" text-anchor="end" font-weight="normal" font-style="normal" fill="#1e1e1e" ><tspan>P</tspan><tspan font-size="6.8" font-style="italic" font-weight="bold" fill="#6e2fa2" dy="3.6">slpA</tspan><tspan font-style="italic" dy="-3.6">::</tspan><tspan font-style="italic">LP-</tspan><tspan font-style="italic" fill="#ea2b2f">mSc</tspan></text>
<text x="114.60000000000001" y="146.2" font-size="9.2" fill="#6e2fa2">P<tspan font-size="5.8" font-style="italic" font-weight="bold" dx="0.4" dy="3.7">slpA</tspan></text>
<line x1="114.9" y1="153.2" x2="144.0" y2="153.2" stroke="#7c7c7c" stroke-width="1.15"/>
<path d="M137.3 153.2 V145.2 H142.5" fill="none" stroke="#111" stroke-width="0.9"/>
<path d="M141.9 143.29999999999998 L144.9 145.2 L141.9 147.1Z" fill="#111"/>
<path d="M155.1 148.1 H192.5 V143.29999999999998 L201.3 153.2 L192.5 163.1 V158.29999999999998 H155.1Z" fill="#ea2b2f" stroke="#3a1a1a" stroke-width="0.6"/>
<rect x="144.0" y="148.1" width="11.099999999999994" height="10.2" fill="#000"/>
<text x="149.55" y="155.7" font-size="6.6" text-anchor="middle" font-weight="bold" font-style="normal" fill="#fff" >LP</text>
<text x="174.6" y="156.79999999999998" font-size="9.6" text-anchor="middle" font-weight="normal" font-style="italic" fill="#fff" >mSc</text>
<text x="105.6" y="179.6" font-size="11.8" text-anchor="end" font-weight="normal" font-style="normal" fill="#1e1e1e" ><tspan>P</tspan><tspan font-size="6.8" font-style="italic" font-weight="bold" fill="#6e2fa2" dy="3.6">slpA</tspan><tspan font-style="italic" dy="-3.6">::</tspan><tspan font-style="italic"></tspan><tspan font-style="italic" fill="#ea2b2f">mScl3</tspan></text>
<text x="127.2" y="170.0" font-size="9.2" fill="#6e2fa2">P<tspan font-size="5.8" font-style="italic" font-weight="bold" dx="0.4" dy="3.7">slpA</tspan></text>
<line x1="127.5" y1="177.0" x2="156.0" y2="177.0" stroke="#7c7c7c" stroke-width="1.15"/>
<path d="M150.0 177.0 V169.0 H155.2" fill="none" stroke="#111" stroke-width="0.9"/>
<path d="M154.6 167.1 L157.6 169.0 L154.6 170.9Z" fill="#111"/>
<path d="M156.0 171.9 H192.5 V167.1 L201.3 177.0 L192.5 186.9 V182.1 H156.0Z" fill="#ea2b2f" stroke="#3a1a1a" stroke-width="0.6"/>
<text x="174.6" y="180.6" font-size="9.6" text-anchor="middle" font-weight="normal" font-style="italic" fill="#fff" >mSc</text>
<path d="M221.7 17.3 V191.7 H396.2" fill="none" stroke="#111" stroke-width="1.2"/>
<line x1="215.3" y1="33.7" x2="221.7" y2="33.7" stroke="#111" stroke-width="1.2"/>
<line x1="215.3" y1="57.300000000000004" x2="221.7" y2="57.300000000000004" stroke="#111" stroke-width="1.2"/>
<line x1="215.3" y1="80.9" x2="221.7" y2="80.9" stroke="#111" stroke-width="1.2"/>
<line x1="215.3" y1="104.50000000000001" x2="221.7" y2="104.50000000000001" stroke="#111" stroke-width="1.2"/>
<line x1="215.3" y1="128.10000000000002" x2="221.7" y2="128.10000000000002" stroke="#111" stroke-width="1.2"/>
<line x1="215.3" y1="151.7" x2="221.7" y2="151.7" stroke="#111" stroke-width="1.2"/>
<line x1="215.3" y1="175.3" x2="221.7" y2="175.3" stroke="#111" stroke-width="1.2"/>
<line x1="221.7" y1="191.7" x2="221.7" y2="197.6" stroke="#111" stroke-width="1.2"/>
<text x="221.7" y="210.5" font-size="10.9" text-anchor="middle" font-weight="normal" font-style="normal" fill="#1e1e1e" >1</text>
<line x1="265.25" y1="191.7" x2="265.25" y2="197.6" stroke="#111" stroke-width="1.2"/>
<text x="265.25" y="210.5" font-size="10.9" text-anchor="middle" font-weight="normal" font-style="normal" fill="#1e1e1e" >10</text>
<line x1="308.79999999999995" y1="191.7" x2="308.79999999999995" y2="197.6" stroke="#111" stroke-width="1.2"/>
<text x="308.79999999999995" y="210.5" font-size="10.9" text-anchor="middle" font-weight="normal" font-style="normal" fill="#1e1e1e" >100</text>
<line x1="352.34999999999997" y1="191.7" x2="352.34999999999997" y2="197.6" stroke="#111" stroke-width="1.2"/>
<text x="352.34999999999997" y="210.5" font-size="10.9" text-anchor="middle" font-weight="normal" font-style="normal" fill="#1e1e1e" >1000</text>
<line x1="395.9" y1="191.7" x2="395.9" y2="197.6" stroke="#111" stroke-width="1.2"/>
<text x="395.9" y="210.5" font-size="10.9" text-anchor="middle" font-weight="normal" font-style="normal" fill="#1e1e1e" >10000</text>
<text x="309.3" y="230.8" font-size="11.7" text-anchor="middle" font-weight="normal" font-style="normal" fill="#1e1e1e" >mSc(I3) fluorescence (RFU)</text>
<line x1="242.2" y1="33.7" x2="252" y2="33.7" stroke="#e03a30" stroke-width="0.9"/>
<line x1="252" y1="33.7" x2="260.2" y2="33.7" stroke="#f4a4a4" stroke-width="0.9"/>
<path d="M253.10 26.15h0.80v1.1h-0.80zM252.98 27.15h1.78v1.1h-1.78zM252.77 28.15h2.84v1.1h-2.84zM252.77 29.15h3.54v1.1h-3.54zM252.66 30.15h4.03v1.1h-4.03zM252.53 31.15h4.04v1.1h-4.04zM252.23 32.15h5.93v1.1h-5.93zM252.00 33.15h6.20v1.1h-6.20zM252.12 34.15h6.25v1.1h-6.25zM252.28 35.15h4.77v1.1h-4.77zM252.24 36.15h3.91v1.1h-3.91zM252.47 37.15h3.58v1.1h-3.58zM252.89 38.15h2.49v1.1h-2.49zM253.05 39.15h2.18v1.1h-2.18zM253.10 40.15h0.80v1.1h-0.80z" fill="#f3a4a4" fill-opacity="0.95"/>
<line x1="252.0" y1="33.7" x2="258.2" y2="33.7" stroke="#f3a4a4" stroke-opacity="0.95" stroke-width="0.9"/>
<path d="M249.80 25.55h0.80v1.1h-0.80zM248.33 26.56h3.21v1.1h-3.21zM248.46 27.58h3.42v1.1h-3.42zM247.69 28.59h4.54v1.1h-4.54zM247.91 29.60h4.60v1.1h-4.60zM247.64 30.62h4.70v1.1h-4.70zM247.15 31.63h5.70v1.1h-5.70zM247.20 32.64h5.70v1.1h-5.70zM247.20 33.66h5.70v1.1h-5.70zM247.22 34.67h5.20v1.1h-5.20zM247.07 35.68h5.10v1.1h-5.10zM247.80 36.70h4.87v1.1h-4.87zM248.21 37.71h4.08v1.1h-4.08zM248.48 38.72h3.77v1.1h-3.77zM248.17 39.74h3.73v1.1h-3.73zM249.80 40.75h0.80v1.1h-0.80z" fill="#d41a14" fill-opacity="1.0"/>
<line x1="247.2" y1="33.7" x2="252.9" y2="33.7" stroke="#d41a14" stroke-opacity="1.0" stroke-width="0.9"/>
<path d="M249.40 30.15h0.80v1.1h-0.80zM247.62 31.15h3.39v1.1h-3.39zM245.88 32.15h6.30v1.1h-6.30zM245.00 33.15h7.60v1.1h-7.60zM247.00 34.15h4.97v1.1h-4.97zM247.56 35.15h3.73v1.1h-3.73zM249.40 36.15h0.80v1.1h-0.80z" fill="#a81410" fill-opacity="1.0"/>
<line x1="245.0" y1="33.7" x2="252.6" y2="33.7" stroke="#a81410" stroke-opacity="1.0" stroke-width="0.9"/>
<line x1="252.6" y1="25.3" x2="252.6" y2="42.0" stroke="#000" stroke-width="1.3"/>
<circle cx="249.8" cy="33.7" r="1.25" fill="#fff" fill-opacity="0.35" stroke="#2a1010" stroke-width="0.65"/>
<circle cx="255.0" cy="33.7" r="1.25" fill="#fff" fill-opacity="0.35" stroke="#2a1010" stroke-width="0.65"/>
<path d="M294.60 49.75h0.80v1.1h-0.80zM293.80 50.75h2.30v1.1h-2.30zM292.51 51.75h4.30v1.1h-4.30zM291.54 52.75h7.00v1.1h-7.00zM290.29 53.75h8.45v1.1h-8.45zM288.42 54.75h12.57v1.1h-12.57zM288.24 55.75h12.78v1.1h-12.78zM285.00 56.75h17.50v1.1h-17.50zM285.69 57.75h16.41v1.1h-16.41zM288.74 58.75h11.25v1.1h-11.25zM289.75 59.75h10.11v1.1h-10.11zM289.93 60.75h7.78v1.1h-7.78zM292.50 61.75h4.42v1.1h-4.42zM293.67 62.75h2.44v1.1h-2.44zM294.60 63.75h0.80v1.1h-0.80z" fill="#9a2824" fill-opacity="1.0"/>
<line x1="285.0" y1="57.3" x2="302.5" y2="57.3" stroke="#9a2824" stroke-opacity="1.0" stroke-width="0.9"/>
<path d="M306.10 51.25h0.80v1.1h-0.80zM305.52 52.25h2.04v1.1h-2.04zM304.12 53.25h4.54v1.1h-4.54zM303.54 54.25h6.04v1.1h-6.04zM302.35 55.25h7.28v1.1h-7.28zM301.00 56.25h11.00v1.1h-11.00zM301.00 57.25h11.00v1.1h-11.00zM302.81 58.25h7.38v1.1h-7.38zM304.05 59.25h5.55v1.1h-5.55zM304.87 60.25h3.26v1.1h-3.26zM305.59 61.25h1.80v1.1h-1.80zM306.10 62.25h0.80v1.1h-0.80z" fill="#ee3a22" fill-opacity="1.0"/>
<line x1="301.0" y1="57.3" x2="312.0" y2="57.3" stroke="#ee3a22" stroke-opacity="1.0" stroke-width="0.9"/>
<path d="M322.10 49.25h0.80v1.1h-0.80zM321.45 50.25h2.24v1.1h-2.24zM320.55 51.25h4.77v1.1h-4.77zM318.75 52.25h6.80v1.1h-6.80zM318.29 53.25h8.62v1.1h-8.62zM317.02 54.25h10.38v1.1h-10.38zM314.57 55.25h16.29v1.1h-16.29zM313.50 56.25h18.00v1.1h-18.00zM313.50 57.25h18.00v1.1h-18.00zM316.04 58.25h12.69v1.1h-12.69zM315.88 59.25h11.61v1.1h-11.61zM318.74 60.25h9.36v1.1h-9.36zM318.88 61.25h6.67v1.1h-6.67zM320.02 62.25h4.43v1.1h-4.43zM321.22 63.25h2.79v1.1h-2.79zM322.10 64.25h0.80v1.1h-0.80z" fill="#f2a6a6" fill-opacity="1.0"/>
<line x1="313.5" y1="57.3" x2="331.5" y2="57.3" stroke="#f2a6a6" stroke-opacity="1.0" stroke-width="0.9"/>
<line x1="311.4" y1="49.0" x2="311.4" y2="65.3" stroke="#000" stroke-width="1.3"/>
<circle cx="295.3" cy="57.3" r="1.25" fill="#fff" fill-opacity="0.35" stroke="#2a1010" stroke-width="0.65"/>
<circle cx="306.3" cy="57.3" r="1.25" fill="#fff" fill-opacity="0.35" stroke="#2a1010" stroke-width="0.65"/>
<circle cx="322.3" cy="57.3" r="1.25" fill="#fff" fill-opacity="0.35" stroke="#2a1010" stroke-width="0.65"/>
<path d="M346.10 72.95h0.80v1.1h-0.80zM344.75 73.95h3.46v1.1h-3.46zM342.52 74.95h7.30v1.1h-7.30zM341.15 75.95h9.22v1.1h-9.22zM337.92 76.95h15.50v1.1h-15.50zM335.74 77.95h18.79v1.1h-18.79zM333.86 78.95h21.94v1.1h-21.94zM332.00 79.95h25.50v1.1h-25.50zM332.00 80.95h25.50v1.1h-25.50zM337.57 81.95h16.60v1.1h-16.60zM338.08 82.95h16.11v1.1h-16.11zM337.46 83.95h14.66v1.1h-14.66zM339.67 84.95h12.10v1.1h-12.10zM341.82 85.95h7.48v1.1h-7.48zM344.71 86.95h3.16v1.1h-3.16zM346.10 87.95h0.80v1.1h-0.80z" fill="#9a1c1c" fill-opacity="1.0"/>
<line x1="332.0" y1="81.0" x2="357.5" y2="81.0" stroke="#9a1c1c" stroke-opacity="1.0" stroke-width="0.9"/>
<line x1="346.5" y1="73.3" x2="346.5" y2="89.6" stroke="#000" stroke-width="1.3"/>
<circle cx="346.8" cy="79.0" r="1.25" fill="#fff" fill-opacity="0.35" stroke="#2a1010" stroke-width="0.65"/>
<circle cx="346.8" cy="83.0" r="1.25" fill="#fff" fill-opacity="0.35" stroke="#2a1010" stroke-width="0.65"/>
<path d="M352.60 97.05h0.80v1.1h-0.80zM350.52 98.05h4.85v1.1h-4.85zM348.54 99.05h9.67v1.1h-9.67zM347.92 100.05h12.34v1.1h-12.34zM343.51 101.05h19.49v1.1h-19.49zM341.94 102.05h22.00v1.1h-22.00zM342.71 103.05h25.02v1.1h-25.02zM338.50 104.05h30.50v1.1h-30.50zM338.74 105.05h26.82v1.1h-26.82zM343.41 106.05h22.71v1.1h-22.71zM344.14 107.05h16.55v1.1h-16.55zM347.81 108.05h10.99v1.1h-10.99zM348.10 109.05h10.12v1.1h-10.12zM351.15 110.05h4.57v1.1h-4.57zM352.60 111.05h0.80v1.1h-0.80z" fill="#e8261c" fill-opacity="1.0"/>
<line x1="338.5" y1="104.6" x2="369.0" y2="104.6" stroke="#e8261c" stroke-opacity="1.0" stroke-width="0.9"/>
<path d="M357.60 100.55h0.80v1.1h-0.80zM356.05 101.55h4.48v1.1h-4.48zM352.65 102.55h11.88v1.1h-11.88zM351.36 103.55h17.31v1.1h-17.31zM351.62 104.55h16.82v1.1h-16.82zM352.92 105.55h10.47v1.1h-10.47zM355.93 106.55h4.97v1.1h-4.97zM357.60 107.55h0.80v1.1h-0.80z" fill="#a01c1c" fill-opacity="1.0"/>
<line x1="350.0" y1="104.6" x2="369.0" y2="104.6" stroke="#a01c1c" stroke-opacity="1.0" stroke-width="0.9"/>
<line x1="353.2" y1="97.0" x2="353.2" y2="112.8" stroke="#000" stroke-width="1.3"/>
<circle cx="352.0" cy="104.6" r="1.25" fill="#fff" fill-opacity="0.35" stroke="#2a1010" stroke-width="0.65"/>
<path d="M341.10 120.65h0.80v1.1h-0.80zM339.48 121.65h4.30v1.1h-4.30zM337.16 122.65h8.03v1.1h-8.03zM334.47 123.65h13.50v1.1h-13.50zM332.87 124.65h17.17v1.1h-17.17zM330.45 125.65h20.14v1.1h-20.14zM328.24 126.65h21.77v1.1h-21.77zM325.50 127.65h29.00v1.1h-29.00zM331.11 128.65h22.40v1.1h-22.40zM331.98 129.65h18.39v1.1h-18.39zM331.72 130.65h17.21v1.1h-17.21zM335.20 131.65h11.86v1.1h-11.86zM336.77 132.65h8.94v1.1h-8.94zM339.50 133.65h3.99v1.1h-3.99zM341.10 134.65h0.80v1.1h-0.80z" fill="#e8301e" fill-opacity="1.0"/>
<line x1="325.5" y1="128.2" x2="354.5" y2="128.2" stroke="#e8301e" stroke-opacity="1.0" stroke-width="0.9"/>
<path d="M338.60 123.65h0.80v1.1h-0.80zM336.91 124.65h4.63v1.1h-4.63zM334.38 125.65h8.94v1.1h-8.94zM332.94 126.65h12.58v1.1h-12.58zM331.00 127.65h17.00v1.1h-17.00zM333.33 128.65h12.26v1.1h-12.26zM335.10 129.65h9.15v1.1h-9.15zM336.79 130.65h4.86v1.1h-4.86zM338.60 131.65h0.80v1.1h-0.80z" fill="#f07a6a" fill-opacity="0.7"/>
<line x1="331.0" y1="128.2" x2="348.0" y2="128.2" stroke="#f07a6a" stroke-opacity="0.7" stroke-width="0.9"/>
<line x1="341.8" y1="121.4" x2="341.8" y2="137.6" stroke="#000" stroke-width="1.3"/>
<circle cx="341.0" cy="128.2" r="1.25" fill="#fff" fill-opacity="0.35" stroke="#2a1010" stroke-width="0.65"/>
<path d="M345.60 144.25h0.80v1.1h-0.80zM344.72 145.25h2.36v1.1h-2.36zM344.18 146.25h4.22v1.1h-4.22zM343.39 147.25h5.83v1.1h-5.83zM342.57 148.25h8.52v1.1h-8.52zM340.21 149.25h12.64v1.1h-12.64zM340.74 150.25h12.87v1.1h-12.87zM338.50 151.25h16.00v1.1h-16.00zM338.85 152.25h15.49v1.1h-15.49zM341.44 153.25h11.55v1.1h-11.55zM341.99 154.25h8.73v1.1h-8.73zM342.16 155.25h7.96v1.1h-7.96zM344.14 156.25h4.24v1.1h-4.24zM344.87 157.25h2.31v1.1h-2.31zM345.60 158.25h0.80v1.1h-0.80z" fill="#f2a0a0" fill-opacity="1.0"/>
<line x1="338.5" y1="151.8" x2="354.5" y2="151.8" stroke="#f2a0a0" stroke-opacity="1.0" stroke-width="0.9"/>
<path d="M353.10 147.25h0.80v1.1h-0.80zM352.59 148.25h2.03v1.1h-2.03zM352.13 149.25h3.43v1.1h-3.43zM350.84 150.25h5.93v1.1h-5.93zM350.00 151.25h8.00v1.1h-8.00zM350.66 152.25h6.74v1.1h-6.74zM352.07 153.25h3.43v1.1h-3.43zM352.78 154.25h2.00v1.1h-2.00zM353.10 155.25h0.80v1.1h-0.80z" fill="#8e2222" fill-opacity="1.0"/>
<line x1="350.0" y1="151.8" x2="358.0" y2="151.8" stroke="#8e2222" stroke-opacity="1.0" stroke-width="0.9"/>
<path d="M364.10 145.75h0.80v1.1h-0.80zM363.22 146.75h2.38v1.1h-2.38zM362.64 147.75h4.64v1.1h-4.64zM361.20 148.75h7.06v1.1h-7.06zM361.02 149.75h7.20v1.1h-7.20zM358.50 150.75h12.50v1.1h-12.50zM358.50 151.75h12.50v1.1h-12.50zM360.05 152.75h9.59v1.1h-9.59zM361.86 153.75h6.64v1.1h-6.64zM362.72 154.75h4.51v1.1h-4.51zM363.39 155.75h2.25v1.1h-2.25zM364.10 156.75h0.80v1.1h-0.80z" fill="#ee2a1e" fill-opacity="1.0"/>
<line x1="358.5" y1="151.8" x2="371.0" y2="151.8" stroke="#ee2a1e" stroke-opacity="1.0" stroke-width="0.9"/>
<line x1="356.9" y1="145.0" x2="356.9" y2="160.2" stroke="#000" stroke-width="1.3"/>
<circle cx="346.0" cy="151.8" r="1.25" fill="#fff" fill-opacity="0.35" stroke="#2a1010" stroke-width="0.65"/>
<circle cx="353.5" cy="151.8" r="1.25" fill="#fff" fill-opacity="0.35" stroke="#2a1010" stroke-width="0.65"/>
<circle cx="364.5" cy="151.8" r="1.25" fill="#fff" fill-opacity="0.35" stroke="#2a1010" stroke-width="0.65"/>
<path d="M372.60 167.85h0.80v1.1h-0.80zM370.88 168.85h3.38v1.1h-3.38zM369.62 169.85h5.73v1.1h-5.73zM368.18 170.85h8.35v1.1h-8.35zM365.80 171.85h12.07v1.1h-12.07zM362.28 172.85h16.69v1.1h-16.69zM361.51 173.85h18.23v1.1h-18.23zM359.00 174.85h23.50v1.1h-23.50zM362.72 175.85h16.49v1.1h-16.49zM362.39 176.85h17.31v1.1h-17.31zM366.21 177.85h12.04v1.1h-12.04zM365.97 178.85h10.40v1.1h-10.40zM368.41 179.85h7.26v1.1h-7.26zM370.91 180.85h3.71v1.1h-3.71zM372.60 181.85h0.80v1.1h-0.80z" fill="#e8261c" fill-opacity="1.0"/>
<line x1="359.0" y1="175.4" x2="382.5" y2="175.4" stroke="#e8261c" stroke-opacity="1.0" stroke-width="0.9"/>
<path d="M373.10 170.35h0.80v1.1h-0.80zM371.91 171.35h3.28v1.1h-3.28zM369.92 172.35h6.61v1.1h-6.61zM368.85 173.35h8.58v1.1h-8.58zM366.00 174.35h14.00v1.1h-14.00zM366.00 175.35h14.00v1.1h-14.00zM369.15 176.35h7.95v1.1h-7.95zM370.78 177.35h5.99v1.1h-5.99zM371.53 178.35h3.56v1.1h-3.56zM373.10 179.35h0.80v1.1h-0.80z" fill="#b01c1c" fill-opacity="1.0"/>
<line x1="366.0" y1="175.4" x2="380.0" y2="175.4" stroke="#b01c1c" stroke-opacity="1.0" stroke-width="0.9"/>
<line x1="374.3" y1="167.6" x2="374.3" y2="184.5" stroke="#000" stroke-width="1.3"/>
<circle cx="373.5" cy="175.4" r="1.25" fill="#fff" fill-opacity="0.35" stroke="#2a1010" stroke-width="0.65"/>
<path d="M467.3 17.3 V192.3 H641.4" fill="none" stroke="#111" stroke-width="1.2"/>
<line x1="461.8" y1="17.3" x2="467.3" y2="17.3" stroke="#111" stroke-width="1.2"/>
<text x="458.2" y="21.3" font-size="11.0" text-anchor="end" font-weight="bold" font-style="normal" fill="#1e1e1e" >1</text>
<line x1="461.8" y1="75.6" x2="467.3" y2="75.6" stroke="#111" stroke-width="1.2"/>
<text x="458.2" y="79.6" font-size="11.0" text-anchor="end" font-weight="bold" font-style="normal" fill="#1e1e1e" >0.1</text>
<line x1="461.8" y1="133.9" x2="467.3" y2="133.9" stroke="#111" stroke-width="1.2"/>
<text x="458.2" y="137.9" font-size="11.0" text-anchor="end" font-weight="bold" font-style="normal" fill="#1e1e1e" >0.01</text>
<line x1="461.8" y1="192.2" x2="467.3" y2="192.2" stroke="#111" stroke-width="1.2"/>
<text x="458.2" y="196.2" font-size="11.0" text-anchor="end" font-weight="bold" font-style="normal" fill="#1e1e1e" >0.001</text>
<line x1="467.3" y1="192.3" x2="467.3" y2="197.4" stroke="#111" stroke-width="1.2"/>
<text x="467.3" y="210.1" font-size="10.6" text-anchor="middle" font-weight="normal" font-style="normal" fill="#1e1e1e" >0</text>
<line x1="510.8" y1="192.3" x2="510.8" y2="197.4" stroke="#111" stroke-width="1.2"/>
<text x="510.8" y="210.1" font-size="10.6" text-anchor="middle" font-weight="normal" font-style="normal" fill="#1e1e1e" >6</text>
<line x1="554.3" y1="192.3" x2="554.3" y2="197.4" stroke="#111" stroke-width="1.2"/>
<text x="554.3" y="210.1" font-size="10.6" text-anchor="middle" font-weight="normal" font-style="normal" fill="#1e1e1e" >12</text>
<line x1="597.8" y1="192.3" x2="597.8" y2="197.4" stroke="#111" stroke-width="1.2"/>
<text x="597.8" y="210.1" font-size="10.6" text-anchor="middle" font-weight="normal" font-style="normal" fill="#1e1e1e" >18</text>
<line x1="641.3" y1="192.3" x2="641.3" y2="197.4" stroke="#111" stroke-width="1.2"/>
<text x="641.3" y="210.1" font-size="10.6" text-anchor="middle" font-weight="normal" font-style="normal" fill="#1e1e1e" >24</text>
<text x="555.1" y="230.7" font-size="11.8" text-anchor="middle" font-weight="normal" font-style="normal" fill="#1e1e1e" >Hour</text>
<text transform="translate(422.3 120.6) rotate(-90)" font-size="12" font-weight="bold" fill="#1e1e1e">OD<tspan font-size="9" dy="3.4">600</tspan></text>
<path d="M467.3 135.0 L475.4 125.4 L483.1 107.9 L490.9 87.9 L498.7 64.2 L505.1 50.0 L510.8 44.2 L516.8 39.6 L523.1 34.6 L529.7 30.5 L536.2 28.6 L542.7 27.4 L550.7 27.0 L558.2 27.0 L565.2 27.6 L578.2 28.5 L588.4 29.1 L598.5 30.1 L605.8 31.2 L612.3 32.5 L618.1 33.8 L623.2 35.2 L629.0 36.6 L634.0 37.8 L637.7 38.9 L641.3 40.0" fill="none" stroke="#c444f0" stroke-width="1.7" stroke-linejoin="round"/>
<path d="M467.3 161.0 L475.4 144.1 L483.1 119.8 L490.9 92.7 L498.7 64.2 L505.1 50.0 L510.8 44.2 L516.8 39.6 L523.1 34.6 L529.7 30.5 L536.2 28.6 L542.7 27.4 L550.7 27.0 L558.2 27.0 L565.2 27.6 L578.2 29.3 L588.4 30.4 L598.5 32.2 L605.8 34.1 L612.3 36.5 L618.1 38.8 L623.2 41.3 L629.0 43.7 L634.0 46.0 L637.7 47.9 L641.3 49.8" fill="none" stroke="#c444f0" stroke-width="1.7" stroke-linejoin="round" stroke-dasharray="6 3"/>
<path d="M467.3 143.0 L475.4 131.1 L483.1 111.6 L490.9 89.4 L498.7 64.2 L505.1 50.0 L510.8 44.2 L516.8 39.6 L523.1 34.6 L529.7 30.5 L536.2 28.6 L542.7 27.4 L550.7 27.0 L558.2 27.0 L565.2 27.6 L578.2 29.5 L588.4 30.8 L598.5 32.8 L605.8 34.9 L612.3 37.5 L618.1 40.0 L623.2 42.7 L629.0 45.5 L634.0 48.0 L637.7 50.1 L641.3 52.2" fill="none" stroke="#8e8e8e" stroke-width="1.7" stroke-linejoin="round" stroke-dasharray="6 3"/>
<path d="M467.3 150.0 L475.4 136.2 L483.1 114.8 L490.9 90.7 L498.7 64.2 L505.1 50.0 L510.8 44.2 L516.8 39.6 L523.1 34.6 L529.7 30.5 L536.2 28.6 L542.7 27.4 L550.7 27.0 L558.2 27.0 L565.2 27.6 L578.2 29.3 L588.4 30.4 L598.5 32.2 L605.8 34.1 L612.3 36.5 L618.1 38.8 L623.2 41.3 L629.0 43.7 L634.0 46.0 L636.2 40.0 L637.7 47.9 L641.3 49.8" fill="none" stroke="#f0902a" stroke-width="1.7" stroke-linejoin="round" stroke-dasharray="6 3"/>
<path d="M467.3 146.0 L475.4 133.3 L483.1 112.9 L490.9 89.9 L498.7 64.2 L505.1 50.0 L510.8 44.2 L516.8 39.6 L523.1 34.6 L529.7 30.5 L536.2 28.6 L542.7 27.4 L550.7 27.0 L558.2 27.0 L565.2 27.6 L578.2 29.7 L588.4 31.1 L598.5 33.2 L605.8 35.5 L612.3 38.4 L618.1 41.2 L623.2 44.2 L629.0 47.2 L634.0 49.9 L637.7 52.2 L641.3 54.5" fill="none" stroke="#2c6674" stroke-width="1.7" stroke-linejoin="round"/>
<path d="M467.3 148.0 L475.4 134.7 L483.1 113.9 L490.9 90.3 L498.7 64.2 L505.1 50.0 L510.8 44.2 L516.8 39.6 L523.1 34.6 L529.7 30.5 L536.2 28.6 L542.7 27.4 L550.7 27.0 L558.2 27.0 L565.2 27.6 L578.2 29.6 L588.4 31.0 L598.5 33.1 L605.8 35.3 L612.3 38.1 L618.1 40.8 L623.2 43.7 L629.0 46.7 L634.0 49.3 L637.7 51.6 L641.3 53.8" fill="none" stroke="#3a9eb3" stroke-width="1.7" stroke-linejoin="round"/>
<path d="M468.1 147.0 L476.0 134.0 L483.5 113.4 L491.1 90.1 L498.7 64.2 L505.1 50.0 L510.8 44.2 L516.8 39.6 L523.1 34.6 L529.7 30.5 L536.2 28.6 L542.7 27.4 L550.7 27.0 L558.2 27.0 L565.2 27.6 L578.2 29.4 L588.4 30.5 L598.5 32.4 L605.8 34.4 L612.3 36.8 L618.1 39.2 L623.2 41.7 L629.0 44.3 L634.0 46.6 L637.7 48.6 L641.3 50.5" fill="none" stroke="#6fe6f5" stroke-width="1.7" stroke-linejoin="round"/>
<line x1="516.4" y1="73.5" x2="534" y2="73.5" stroke="#8e8e8e" stroke-width="2.1" stroke-dasharray="9.7 4.4"/>
<text x="542.1" y="77.6" font-size="11.7" text-anchor="start" font-weight="normal" font-style="normal" fill="#1e1e1e" >WT (unmarked)</text>
<line x1="516.4" y1="90.0" x2="534" y2="90.0" stroke="#6fe6f5" stroke-width="2.1"/>
<text x="542.3" y="94.1" font-size="11.7" text-anchor="start" font-weight="normal" font-style="normal" fill="#1e1e1e" >P<tspan font-size="6.4" font-style="italic" dy="3.6">cwp2</tspan><tspan font-style="italic" dy="-3.6">::LP-mSc</tspan></text>
<line x1="516.4" y1="106.5" x2="534" y2="106.5" stroke="#3a9eb3" stroke-width="2.1"/>
<text x="542.3" y="110.6" font-size="11.7" text-anchor="start" font-weight="normal" font-style="normal" fill="#1e1e1e" >P<tspan font-size="6.4" font-style="italic" dy="3.6">cwp2</tspan><tspan font-style="italic" dy="-3.6">::LP-mScl3</tspan></text>
<line x1="516.4" y1="123.0" x2="534" y2="123.0" stroke="#2c6674" stroke-width="2.1"/>
<text x="542.3" y="127.1" font-size="11.7" text-anchor="start" font-weight="normal" font-style="normal" fill="#1e1e1e" >P<tspan font-size="6.4" font-style="italic" dy="3.6">cwp2</tspan><tspan font-style="italic" dy="-3.6">::LP-mScl3</tspan><tspan font-size="10.5" font-weight="bold" dy="-0.5" dx="0.3">*</tspan></text>
<line x1="516.4" y1="139.5" x2="534" y2="139.5" stroke="#f0902a" stroke-width="2.1" stroke-dasharray="9.7 4.4"/>
<text x="542.3" y="143.6" font-size="11.7" text-anchor="start" font-weight="normal" font-style="normal" fill="#1e1e1e" >P<tspan font-size="6.4" font-style="italic" dy="3.6">gluD</tspan><tspan font-style="italic" dy="-3.6">::mScl3</tspan></text>
<line x1="516.4" y1="156.0" x2="534" y2="156.0" stroke="#c444f0" stroke-width="2.1"/>
<text x="542.3" y="160.1" font-size="11.7" text-anchor="start" font-weight="normal" font-style="normal" fill="#1e1e1e" >P<tspan font-size="6.4" font-style="italic" dy="3.6">slpA</tspan><tspan font-style="italic" dy="-3.6">::LP-mSc</tspan></text>
<line x1="516.4" y1="172.5" x2="534" y2="172.5" stroke="#c444f0" stroke-width="2.1" stroke-dasharray="9.7 4.4"/>
<text x="542.3" y="176.6" font-size="11.7" text-anchor="start" font-weight="normal" font-style="normal" fill="#1e1e1e" >P<tspan font-size="6.4" font-style="italic" dy="3.6">slpA</tspan><tspan font-style="italic" dy="-3.6">::mScl3</tspan></text>
</svg>
</body></html>
